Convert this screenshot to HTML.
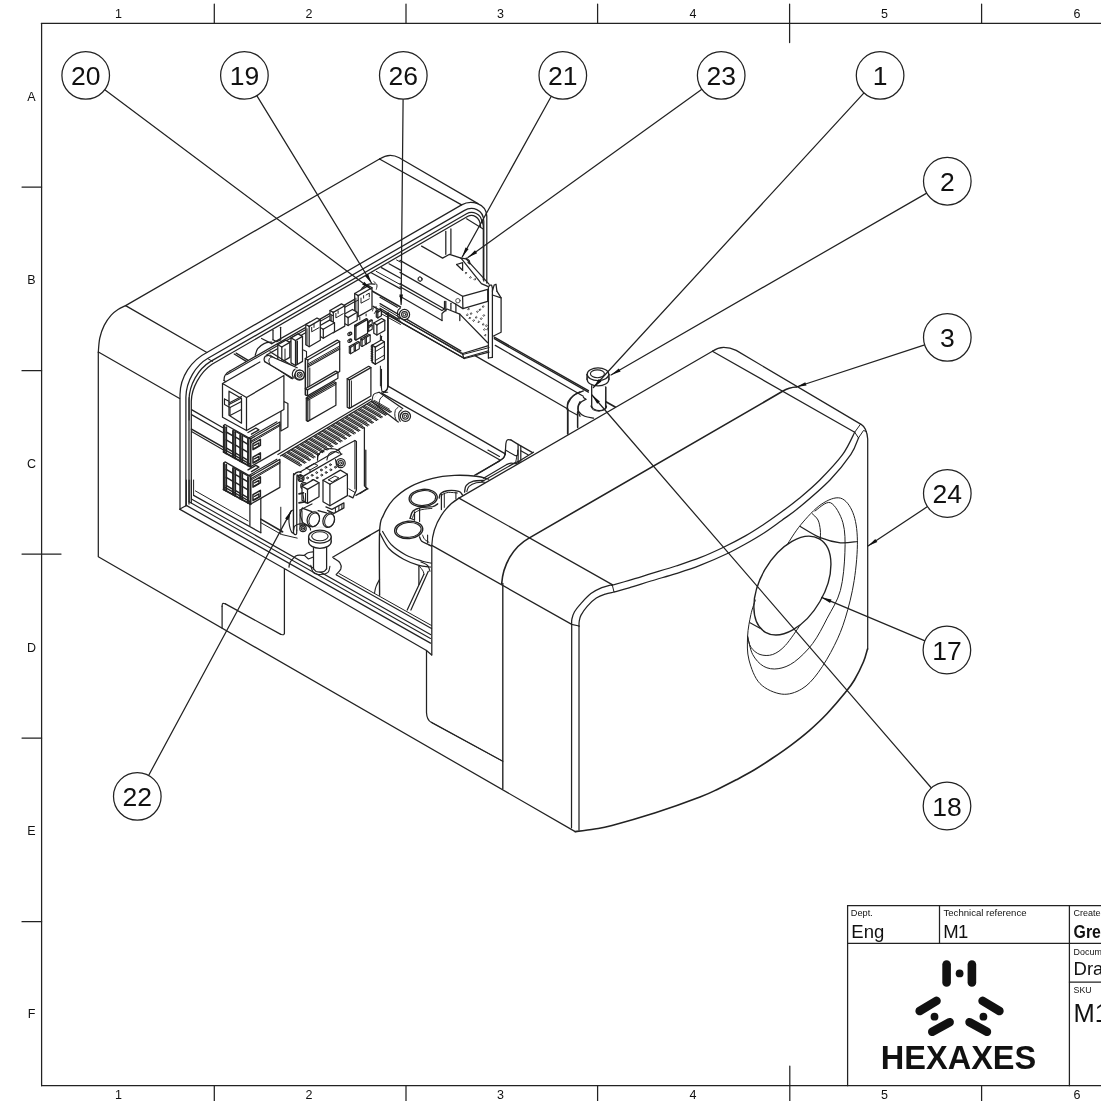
<!DOCTYPE html>
<html><head><meta charset="utf-8"><title>Drawing</title>
<style>
html,body{margin:0;padding:0;background:#fff;}
body{width:1101px;height:1101px;overflow:hidden;font-family:"Liberation Sans",sans-serif;}
svg{display:block;font-family:"Liberation Sans",sans-serif;}
svg{filter:grayscale(1);}
</style></head><body>
<svg width="1101" height="1101" viewBox="0 0 1101 1101" stroke-linecap="round" stroke-linejoin="round">
<rect x="0" y="0" width="1101" height="1101" fill="#fff"/>
<line x1="41.6" y1="23.3" x2="41.6" y2="1085.7" stroke="#222" stroke-width="1.25"/>
<line x1="41.6" y1="23.3" x2="1101.0" y2="23.3" stroke="#222" stroke-width="1.25"/>
<line x1="41.6" y1="1085.7" x2="1101.0" y2="1085.7" stroke="#222" stroke-width="1.25"/>
<line x1="214.3" y1="4.0" x2="214.3" y2="23.3" stroke="#222" stroke-width="1.25"/>
<line x1="214.3" y1="1085.7" x2="214.3" y2="1101.0" stroke="#222" stroke-width="1.25"/>
<line x1="406.0" y1="4.0" x2="406.0" y2="23.3" stroke="#222" stroke-width="1.25"/>
<line x1="406.0" y1="1085.7" x2="406.0" y2="1101.0" stroke="#222" stroke-width="1.25"/>
<line x1="597.6" y1="4.0" x2="597.6" y2="23.3" stroke="#222" stroke-width="1.25"/>
<line x1="597.6" y1="1085.7" x2="597.6" y2="1101.0" stroke="#222" stroke-width="1.25"/>
<line x1="981.6" y1="4.0" x2="981.6" y2="23.3" stroke="#222" stroke-width="1.25"/>
<line x1="981.6" y1="1085.7" x2="981.6" y2="1101.0" stroke="#222" stroke-width="1.25"/>
<line x1="789.6" y1="4.0" x2="789.6" y2="42.6" stroke="#222" stroke-width="1.25"/>
<line x1="789.8" y1="1066.0" x2="789.8" y2="1101.0" stroke="#222" stroke-width="1.25"/>
<line x1="22.0" y1="187.0" x2="41.6" y2="187.0" stroke="#222" stroke-width="1.25"/>
<line x1="22.0" y1="370.7" x2="41.6" y2="370.7" stroke="#222" stroke-width="1.25"/>
<line x1="22.0" y1="738.0" x2="41.6" y2="738.0" stroke="#222" stroke-width="1.25"/>
<line x1="22.0" y1="921.7" x2="41.6" y2="921.7" stroke="#222" stroke-width="1.25"/>
<line x1="22.0" y1="554.0" x2="61.0" y2="554.0" stroke="#222" stroke-width="1.25"/>
<text x="118.5" y="17.6" font-size="12.5" text-anchor="middle" font-weight="normal" fill="#111" >1</text>
<text x="118.5" y="1099.2" font-size="12.5" text-anchor="middle" font-weight="normal" fill="#111" >1</text>
<text x="309.0" y="17.6" font-size="12.5" text-anchor="middle" font-weight="normal" fill="#111" >2</text>
<text x="309.0" y="1099.2" font-size="12.5" text-anchor="middle" font-weight="normal" fill="#111" >2</text>
<text x="500.5" y="17.6" font-size="12.5" text-anchor="middle" font-weight="normal" fill="#111" >3</text>
<text x="500.5" y="1099.2" font-size="12.5" text-anchor="middle" font-weight="normal" fill="#111" >3</text>
<text x="693.0" y="17.6" font-size="12.5" text-anchor="middle" font-weight="normal" fill="#111" >4</text>
<text x="693.0" y="1099.2" font-size="12.5" text-anchor="middle" font-weight="normal" fill="#111" >4</text>
<text x="884.6" y="17.6" font-size="12.5" text-anchor="middle" font-weight="normal" fill="#111" >5</text>
<text x="884.6" y="1099.2" font-size="12.5" text-anchor="middle" font-weight="normal" fill="#111" >5</text>
<text x="1077.0" y="17.6" font-size="12.5" text-anchor="middle" font-weight="normal" fill="#111" >6</text>
<text x="1077.0" y="1099.2" font-size="12.5" text-anchor="middle" font-weight="normal" fill="#111" >6</text>
<text x="31.5" y="100.5" font-size="12.5" text-anchor="middle" font-weight="normal" fill="#111" >A</text>
<text x="31.5" y="284.0" font-size="12.5" text-anchor="middle" font-weight="normal" fill="#111" >B</text>
<text x="31.5" y="467.5" font-size="12.5" text-anchor="middle" font-weight="normal" fill="#111" >C</text>
<text x="31.5" y="651.5" font-size="12.5" text-anchor="middle" font-weight="normal" fill="#111" >D</text>
<text x="31.5" y="835.0" font-size="12.5" text-anchor="middle" font-weight="normal" fill="#111" >E</text>
<text x="31.5" y="1018.0" font-size="12.5" text-anchor="middle" font-weight="normal" fill="#111" >F</text>
<line x1="847.6" y1="905.7" x2="1101.0" y2="905.7" stroke="#222" stroke-width="1.25"/>
<line x1="847.6" y1="905.7" x2="847.6" y2="1085.7" stroke="#222" stroke-width="1.25"/>
<line x1="847.6" y1="943.3" x2="1101.0" y2="943.3" stroke="#222" stroke-width="1.25"/>
<line x1="939.5" y1="905.7" x2="939.5" y2="943.3" stroke="#222" stroke-width="1.25"/>
<line x1="1069.4" y1="905.7" x2="1069.4" y2="1085.7" stroke="#222" stroke-width="1.25"/>
<line x1="1069.4" y1="982.0" x2="1101.0" y2="982.0" stroke="#222" stroke-width="1.25"/>
<text x="850.8" y="915.7" font-size="9.5" text-anchor="start" font-weight="normal" fill="#111" textLength="22" lengthAdjust="spacingAndGlyphs">Dept.</text>
<text x="851.3" y="937.8" font-size="18.5" text-anchor="start" font-weight="normal" fill="#111" >Eng</text>
<text x="943.5" y="915.7" font-size="9.5" text-anchor="start" font-weight="normal" fill="#111" textLength="83" lengthAdjust="spacingAndGlyphs">Technical reference</text>
<text x="943.3" y="937.8" font-size="18.5" text-anchor="start" font-weight="normal" fill="#111" textLength="25" lengthAdjust="spacing">M1</text>
<text x="1073.6" y="915.7" font-size="9.5" text-anchor="start" font-weight="normal" fill="#111" textLength="44" lengthAdjust="spacingAndGlyphs">Created by</text>
<text x="1073.6" y="937.8" font-size="18.5" text-anchor="start" font-weight="bold" fill="#111" textLength="37" lengthAdjust="spacingAndGlyphs">Greg</text>
<text x="1073.6" y="954.8" font-size="9.5" text-anchor="start" font-weight="normal" fill="#111" textLength="60" lengthAdjust="spacingAndGlyphs">Document type</text>
<text x="1073.6" y="974.9" font-size="18.5" text-anchor="start" font-weight="normal" fill="#111" >Drawing</text>
<text x="1073.6" y="993.0" font-size="9.5" text-anchor="start" font-weight="normal" fill="#111" textLength="18" lengthAdjust="spacingAndGlyphs">SKU</text>
<text x="1073.6" y="1021.7" font-size="25.5" text-anchor="start" font-weight="normal" fill="#111" >M1</text>
<line x1="946.6" y1="964.6" x2="946.6" y2="982.4" stroke="#111" stroke-width="8.6" stroke-linecap="round"/>
<line x1="971.9" y1="964.6" x2="971.9" y2="982.4" stroke="#111" stroke-width="8.6" stroke-linecap="round"/>
<circle cx="959.6" cy="973.4" r="3.9" fill="#111"/>
<line x1="919.7" y1="1011.0" x2="936.5" y2="1000.9" stroke="#111" stroke-width="8.6" stroke-linecap="round"/>
<line x1="932.3" y1="1031.8" x2="949.6" y2="1022.2" stroke="#111" stroke-width="8.6" stroke-linecap="round"/>
<circle cx="934.5" cy="1016.7" r="3.9" fill="#111"/>
<line x1="982.6" y1="1000.9" x2="999.4" y2="1011.0" stroke="#111" stroke-width="8.6" stroke-linecap="round"/>
<line x1="969.6" y1="1022.2" x2="986.9" y2="1031.8" stroke="#111" stroke-width="8.6" stroke-linecap="round"/>
<circle cx="983.4" cy="1016.7" r="3.9" fill="#111"/>
<text x="958.5" y="1069.3" font-size="34" text-anchor="middle" font-weight="bold" fill="#111" textLength="155.5" lengthAdjust="spacingAndGlyphs">HEXAXES</text>
<path d="M379.5,159 L125.6,305.6" stroke="#222" stroke-width="1.25" fill="none" />
<path d="M125.6,305.6 C124.3,306.3 120.4,308.0 118.0,309.6 C115.6,311.2 113.5,312.6 111.2,315.2 C108.9,317.8 106.1,321.6 104.2,325.4 C102.3,329.2 100.8,333.5 99.8,338.0 C98.8,342.5 98.5,349.9 98.3,352.3" stroke="#222" stroke-width="1.25" fill="none" />
<path d="M98.3,352.3 L98.3,556.8 L575.2,831.6" stroke="#222" stroke-width="1.25" fill="none" />
<path d="M379.5,159 Q385,155.3 390.3,155.3 Q395,155.3 399.2,157.8 L478,203.6" stroke="#222" stroke-width="1.25" fill="none" />
<path d="M379.5,159 L461.6,204.9" stroke="#222" stroke-width="1.25" fill="none" />
<path d="M125.6,305.6 L206.9,352.5" stroke="#222" stroke-width="1.25" fill="none" />
<path d="M98.4,352 L179.6,398.5" stroke="#222" stroke-width="1.25" fill="none" />
<path d="M180,509.4 L180,394.4 C180.3,377 191,360.5 206.9,352.5 L461.6,204.9 C471,199.5 486.4,203 486.8,216.3 L486.8,283" stroke="#222" stroke-width="1.25" fill="none" />
<path d="M185.9,506 L185.9,397 C186.2,381 196,365 208,358.2 L464.1,210.6 C472,206 483.6,209 483.8,221.4 L483.8,281" stroke="#222" stroke-width="1.25" fill="none" />
<path d="M189,504 L189,399.5 C189.3,385 198,369 210.7,361.4 L466.6,213.8 C472,210.8 481.6,213 481.9,222.7" stroke="#222" stroke-width="1.25" fill="none" />
<path d="M191.3,503 L191.3,401 C191.6,388 200,372.5 212,364.3 L467.9,216.3 C472,214 480,216 480.6,226.5" stroke="#222" stroke-width="1.25" fill="none" />
<path d="M466.6,218.8 L483.2,229" stroke="#222" stroke-width="1.12" fill="none" />
<path d="M712.4,351.2 Q718,347.4 723.7,347.4 Q730,347.4 736.2,350.4 L861.5,424.6 Q866.8,427.8 867.7,439 L867.7,649" stroke="#222" stroke-width="1.25" fill="none" />
<path d="M712.4,351.2 L854.7,432.2" stroke="#222" stroke-width="1.25" fill="none" />
<path d="M854.7,432.2 L858.5,437.9" stroke="#222" stroke-width="1.00" fill="none" />
<path d="M854.7,432.2 L860.5,424.2" stroke="#222" stroke-width="1.00" fill="none" />
<path d="M858.5,437.9 L863.5,430.5 L866.5,431.5" stroke="#222" stroke-width="1.00" fill="none" />
<path d="M712.4,351.2 L459,498.1" stroke="#222" stroke-width="1.25" fill="none" />
<path d="M459,498.1 C447,505 432.5,522 431.8,545.4 L431.8,654.8" stroke="#222" stroke-width="1.25" fill="none" />
<path d="M459,498.1 L612.2,584.6" stroke="#222" stroke-width="1.25" fill="none" />
<path d="M431.8,545.4 L571.7,624.4 L579,626" stroke="#222" stroke-width="1.25" fill="none" />
<path d="M501.7,583.5 C503,565 513,547 529,538.1 L782.6,391.3 Q789,387.3 796.4,387" stroke="#222" stroke-width="1.62" fill="none" />
<path d="M502.8,583.5 L502.8,788.8" stroke="#222" stroke-width="1.38" fill="none" />
<path d="M571.7,624.4 L571.5,827.8" stroke="#222" stroke-width="1.25" fill="none" />
<path d="M579,626 L579,830" stroke="#222" stroke-width="1.25" fill="none" />
<path d="M571.7,624.4 C571.7,623.5 571.4,621.1 571.9,619.0 C572.4,616.9 573.0,614.4 574.5,611.8 C576.0,609.2 578.2,606.6 580.9,603.6 C583.6,600.6 587.4,596.2 590.9,593.6 C594.4,591.0 598.2,589.2 601.8,587.7 C605.3,586.2 610.5,585.1 612.2,584.6" stroke="#222" stroke-width="1.25" fill="none" />
<path d="M579.0,626.0 C579.0,625.2 578.9,623.3 579.2,621.5 C579.5,619.7 579.6,617.9 580.9,615.4 C582.2,612.9 584.6,609.2 587.2,606.3 C589.8,603.4 593.3,600.1 596.3,598.1 C599.3,596.1 602.4,595.1 605.4,594.1 C608.4,593.1 612.6,592.4 614.0,592.0" stroke="#222" stroke-width="1.25" fill="none" />
<path d="M612.2,584.6 L614,592" stroke="#222" stroke-width="1.00" fill="none" />
<path d="M611.6,585.4 C614.5,584.6 622.6,582.3 629.1,580.4 C635.6,578.5 643.1,576.1 650.9,573.7 C658.7,571.3 667.8,568.7 676.0,566.0 C684.2,563.3 692.1,560.8 700.0,557.7 C707.9,554.6 716.0,550.8 723.6,547.2 C731.2,543.6 738.7,539.7 745.4,535.9 C752.1,532.1 757.5,528.5 763.6,524.5 C769.7,520.5 775.8,516.1 781.7,511.8 C787.6,507.5 792.6,503.8 799.0,498.5 C805.4,493.2 812.5,487.4 819.8,480.0 C827.1,472.6 836.9,462.4 842.7,454.4 C848.5,446.4 852.7,435.9 854.7,432.2" stroke="#222" stroke-width="1.25" fill="none" />
<path d="M614.5,591.9 C616.9,591.2 623.0,589.6 629.1,587.8 C635.2,586.0 643.1,583.4 650.9,581.0 C658.7,578.6 667.8,576.2 676.0,573.6 C684.2,571.0 691.1,568.9 700.0,565.4 C708.9,561.9 721.5,556.3 729.1,552.7 C736.7,549.1 739.6,547.2 745.4,544.0 C751.1,540.8 757.5,537.1 763.6,533.2 C769.7,529.3 775.6,524.8 781.7,520.4 C787.8,516.0 792.0,513.5 800.0,506.8 C808.0,500.1 821.5,488.7 830.0,480.0 C838.5,471.3 846.1,461.4 850.9,454.4 C855.6,447.4 857.2,440.6 858.5,437.9" stroke="#222" stroke-width="1.25" fill="none" />
<path d="M867.5,649.0 C866.8,651.1 865.7,656.6 863.5,661.8 C861.3,667.0 857.4,674.9 854.4,680.0 C851.4,685.1 849.8,687.0 845.3,692.6 C840.8,698.2 833.2,707.1 827.2,713.5 C821.2,719.9 815.1,725.5 809.0,730.8 C802.9,736.1 796.8,740.8 790.8,745.3 C784.8,749.8 778.8,753.9 772.7,758.0 C766.7,762.1 760.6,766.2 754.5,769.8 C748.4,773.4 742.3,776.6 736.3,779.8 C730.2,783.0 724.2,786.0 718.2,788.9 C712.2,791.8 710.5,793.0 700.0,797.0 C689.5,801.0 670.1,808.0 655.4,812.8 C640.7,817.5 622.1,822.8 612.0,825.5 C601.9,828.2 600.7,828.0 594.6,829.0 C588.5,830.0 578.4,831.2 575.2,831.6" stroke="#222" stroke-width="1.62" fill="none" />
<ellipse cx="792.4" cy="585.6" rx="53.9" ry="31.8" transform="rotate(-60 792.4 585.6)" stroke="#222" stroke-width="1.38" fill="none"/>
<path d="M786.9,545.0 C789.2,541.6 795.2,531.4 800.9,524.6 C806.6,517.8 814.7,508.7 821.3,504.3 C827.9,499.9 835.1,496.7 840.4,498.1 C845.7,499.5 850.1,505.7 852.9,512.7 C855.7,519.7 857.2,529.0 857.4,540.3 C857.6,551.6 856.2,567.4 854.2,580.4 C852.2,593.4 848.6,607.4 845.3,618.2 C842.0,629.0 838.9,636.3 834.4,645.4 C829.9,654.5 823.5,665.4 818.1,672.7 C812.7,680.0 807.8,685.4 801.7,689.0 C795.6,692.6 788.7,695.0 781.7,694.1 C774.8,693.2 765.5,689.3 760.0,683.6 C754.5,677.9 751.1,667.9 749.0,660.0 C746.9,652.1 747.3,643.9 747.6,636.3 C747.9,628.7 749.6,620.5 750.9,614.5 C752.2,608.5 754.6,602.4 755.4,600.0" stroke="#222" stroke-width="1.00" fill="none" />
<path d="M815.0,511.0 C817.6,509.6 825.8,500.8 830.4,502.7 C835.0,504.6 840.5,514.4 842.9,522.7 C845.3,531.1 845.3,541.5 844.9,552.8 C844.5,564.1 843.3,579.5 840.4,590.4 C837.5,601.3 831.8,609.3 827.2,618.2 C822.6,627.1 818.1,636.3 812.6,643.6 C807.1,650.9 800.2,657.6 794.5,661.8 C788.8,666.0 783.2,668.0 778.1,668.7 C773.0,669.5 767.8,668.7 763.6,666.3 C759.4,663.9 755.4,659.5 752.7,654.5 C750.0,649.5 748.5,639.3 747.6,636.3" stroke="#222" stroke-width="1.00" fill="none" />
<path d="M812.0,513.5 C813.0,514.6 816.6,517.2 818.0,520.0 C819.4,522.8 819.9,526.8 820.3,530.0 C820.7,533.2 820.3,537.5 820.3,539.0" stroke="#222" stroke-width="1.00" fill="none" />
<path d="M747.6,636.3 C748.1,638.1 748.8,644.2 750.9,647.2 C753.0,650.2 756.4,653.3 760.0,654.5 C763.6,655.7 768.5,656.0 772.7,654.5 C776.9,653.0 780.9,650.2 785.4,645.4 C789.9,640.5 797.6,628.7 800.0,625.4" stroke="#222" stroke-width="1.00" fill="none" />
<path d="M800.3,526.5 C803.6,528.4 813.6,535.0 820.3,537.7 C827.0,540.4 834.2,542.2 840.4,542.8 C846.6,543.4 854.6,541.7 857.4,541.5" stroke="#222" stroke-width="1.25" fill="none" />
<line x1="750.0" y1="622.7" x2="760.0" y2="628.2" stroke="#222" stroke-width="1.12"/>
<path d="M380.0,303.6 L460.8,350.9" stroke="#222" stroke-width="1.25" fill="none" />
<path d="M380.0,305.8 L462.7,354.5" stroke="#222" stroke-width="1.00" fill="none" />
<path d="M385.4,313.6 L464.5,358.5" stroke="#222" stroke-width="1.25" fill="none" />
<path d="M464.5,358.5 L489.0,352.1" stroke="#222" stroke-width="1.25" fill="none" />
<path d="M462.7,354.5 L489.0,347.6" stroke="#222" stroke-width="1.00" fill="none" />
<path d="M494.3,337.2 L588.4,390.6" stroke="#222" stroke-width="1.38" fill="none" />
<path d="M494.3,338.7 L588.4,392.1" stroke="#222" stroke-width="1.38" fill="none" />
<path d="M495.3,345.4 L583.3,396.3" stroke="#222" stroke-width="1.25" fill="none" />
<path d="M475.0,355.6 L567.8,409.0" stroke="#222" stroke-width="1.25" fill="none" />
<path d="M567.1,409.4 C567.3,408.1 567.0,404.1 568.0,401.7 C569.1,399.4 571.5,397.0 573.5,395.4 C575.5,393.7 578.9,392.3 580.0,391.7" stroke="#222" stroke-width="1.25" fill="none" />
<path d="M568.0,409.0 L568.0,433.5" stroke="#222" stroke-width="1.25" fill="none" />
<path d="M577.5,412.6 L577.5,427.2" stroke="#222" stroke-width="1.25" fill="none" />
<path d="M580.0,401.7 C579.7,402.5 578.3,404.6 578.0,406.3 C577.7,407.9 578.0,410.1 578.4,411.7 C578.7,413.4 579.7,415.5 580.0,416.3" stroke="#222" stroke-width="1.25" fill="none" />
<path d="M382.5,393.6 L499.5,459.7" stroke="#222" stroke-width="1.25" fill="none" />
<path d="M387.6,385.9 L505.3,453.9" stroke="#222" stroke-width="1.25" fill="none" />
<path d="M380.0,394.5 C380.6,394.2 382.5,393.4 383.6,392.6 C384.8,391.9 386.2,391.0 386.9,389.9 C387.6,388.8 387.5,386.6 387.6,385.9" stroke="#222" stroke-width="1.12" fill="none" />
<path d="M388.2,312.7 L388.2,386.8" stroke="#222" stroke-width="1.25" fill="none" />
<path d="M505.3,454.4 C505.4,452.6 505.6,445.9 505.9,443.5 C506.2,441.1 506.3,440.5 507.2,439.9 C508.0,439.3 510.2,439.9 510.8,439.9" stroke="#222" stroke-width="1.25" fill="none" />
<path d="M510.8,439.9 L518.1,444.4 L518.1,461.7" stroke="#222" stroke-width="1.25" fill="none" />
<path d="M520.8,446.2 L520.8,460.8" stroke="#222" stroke-width="1.25" fill="none" />
<path d="M518.1,444.4 L532.6,452.6" stroke="#222" stroke-width="1.25" fill="none" />
<path d="M520.8,450.8 L528.0,454.8" stroke="#222" stroke-width="1.25" fill="none" />
<path d="M505.3,454.4 C505.0,455.0 504.7,456.8 503.5,458.0 C502.3,459.2 499.0,461.1 498.1,461.7" stroke="#222" stroke-width="1.25" fill="none" />
<path d="M498.1,461.7 L474.5,475.3" stroke="#222" stroke-width="1.25" fill="none" />
<path d="M481.7,481.7 L515.3,462.6 L518.1,461.7" stroke="#222" stroke-width="1.25" fill="none" />
<path d="M515.3,462.6 C515.5,462.1 516.0,460.9 516.2,459.9 C516.5,458.8 516.5,456.8 516.6,456.2" stroke="#222" stroke-width="1.00" fill="none" />
<path d="M518.1,461.7 L533.5,452.2" stroke="#222" stroke-width="1.25" fill="none" />
<path d="M380.0,297.3 L397.3,307.3" stroke="#222" stroke-width="1.25" fill="none" />
<path d="M380.0,308.2 L398.2,319.1" stroke="#222" stroke-width="1.25" fill="none" />
<path d="M400.3,308.2 C399.9,308.6 398.2,309.5 397.8,310.9 C397.4,312.3 397.5,315.0 397.8,316.3 C398.1,317.7 399.3,318.6 399.6,319.1" stroke="#222" stroke-width="1.12" fill="none" />
<circle cx="404.5" cy="314.5" r="5.1" stroke="#222" stroke-width="1.25" fill="#fff"/>
<circle cx="404.5" cy="314.5" r="2.9" stroke="#222" stroke-width="1.12" fill="none"/>
<circle cx="404.5" cy="314.5" r="1.3" stroke="#222" stroke-width="1.00" fill="none"/>
<path d="M379.1,392.3 L402.7,408.6 L398.2,422.1 L371.8,401.7 Z" stroke="#222" stroke-width="0.12" fill="#fff" />
<path d="M379.1,392.3 L402.7,408.6" stroke="#222" stroke-width="1.25" fill="none" />
<path d="M371.8,401.7 L398.2,422.1" stroke="#222" stroke-width="1.25" fill="none" />
<path d="M379.1,392.3 C378.2,392.6 374.9,392.9 373.6,394.5 C372.4,396.0 372.1,400.5 371.8,401.7" stroke="#222" stroke-width="1.12" fill="none" />
<path d="M383.6,395.4 C383.0,396.0 380.8,397.3 380.0,399.0 C379.2,400.7 379.2,404.3 379.1,405.4" stroke="#222" stroke-width="1.00" fill="none" />
<path d="M401.4,409.9 C401.0,410.4 399.3,411.6 398.9,413.0 C398.5,414.4 398.6,416.7 398.9,418.1 C399.1,419.5 400.1,420.8 400.3,421.3" stroke="#222" stroke-width="1.12" fill="none" />
<path d="M398.2,407.2 C397.7,407.7 395.8,408.9 395.3,410.4 C394.7,412.0 394.7,414.6 394.9,416.3 C395.1,417.9 396.1,419.6 396.3,420.3" stroke="#222" stroke-width="1.00" fill="none" />
<circle cx="405.4" cy="416.3" r="5.1" stroke="#222" stroke-width="1.25" fill="#fff"/>
<circle cx="405.4" cy="416.3" r="2.9" stroke="#222" stroke-width="1.12" fill="none"/>
<circle cx="405.4" cy="416.3" r="1.3" stroke="#222" stroke-width="1.00" fill="none"/>
<path d="M273.0,330.2 L273.0,339.8" stroke="#222" stroke-width="1.25" fill="none" />
<path d="M280.6,327.3 L280.6,339.8" stroke="#222" stroke-width="1.25" fill="none" />
<path d="M273.0,339.8 L276.8,341.7 L280.6,339.8" stroke="#222" stroke-width="1.25" fill="none" />
<path d="M255.2,355.3 C255.6,354.2 256.3,350.6 257.7,348.7 C259.2,346.7 261.8,344.7 264.1,343.6 C266.4,342.5 270.5,342.3 271.7,342.1" stroke="#222" stroke-width="1.25" fill="none" />
<path d="M261.6,338.5 L271.7,343.6" stroke="#222" stroke-width="1.25" fill="none" />
<path d="M234.2,354.0 L246.3,361.4" stroke="#222" stroke-width="1.25" fill="none" />
<path d="M236.1,353.1 L247.8,360.1" stroke="#222" stroke-width="1.25" fill="none" />
<path d="M271.7,343.6 L310.0,322.0" stroke="#222" stroke-width="1.25" fill="none" />
<path d="M266.6,355.0 L310.0,330.2" stroke="#222" stroke-width="1.25" fill="none" />
<path d="M224.0,380.5 C224.1,379.7 224.1,377.3 224.7,376.0 C225.2,374.7 226.3,373.7 227.2,372.8 C228.1,372.0 229.6,371.3 230.0,371.0" stroke="#222" stroke-width="1.25" fill="none" />
<path d="M230.0,371.0 L370.9,289.9" stroke="#222" stroke-width="1.25" fill="none" />
<path d="M226.6,374.7 L369.0,293.4" stroke="#222" stroke-width="1.12" fill="none" />
<path d="M224.0,380.5 L225.9,381.7" stroke="#222" stroke-width="1.25" fill="none" />
<path d="M208.1,358.8 L212.6,361.4" stroke="#222" stroke-width="1.00" fill="none" />
<path d="M189.1,397.6 L189.1,420.0" stroke="#222" stroke-width="1.00" fill="none" />
<path d="M387.7,313.4 L387.7,385.2" stroke="#222" stroke-width="1.25" fill="none" />
<path d="M381.4,336.3 L381.4,342.7" stroke="#222" stroke-width="1.25" fill="none" />
<path d="M381.4,369.4 L381.4,387.2" stroke="#222" stroke-width="1.25" fill="none" />
<path d="M381.4,387.2 C381.5,387.8 381.5,390.1 382.0,391.0 C382.5,391.8 383.6,392.0 384.6,392.2 C385.5,392.5 387.2,392.2 387.7,392.2" stroke="#222" stroke-width="1.12" fill="none" />
<path d="M387.7,385.2 C387.7,385.8 387.9,387.5 387.5,388.4 C387.1,389.4 386.2,390.3 385.2,391.0 C384.2,391.6 382.0,392.0 381.4,392.2" stroke="#222" stroke-width="1.12" fill="none" />
<path d="M371.2,272.7 L400.5,288.9" stroke="#222" stroke-width="1.25" fill="none" />
<path d="M376.3,271.4 L400.5,284.7" stroke="#222" stroke-width="1.00" fill="none" />
<path d="M381.4,267.6 L400.5,278.2" stroke="#222" stroke-width="1.25" fill="none" />
<path d="M389.0,263.8 L400.5,270.1" stroke="#222" stroke-width="1.25" fill="none" />
<path d="M396.6,260.0 L400.5,262.1" stroke="#222" stroke-width="1.00" fill="none" />
<path d="M371.2,290.5 L400.5,307.0" stroke="#222" stroke-width="1.50" fill="none" />
<path d="M373.1,306.4 L400.5,321.7" stroke="#222" stroke-width="1.50" fill="none" />
<path d="M376.3,310.9 L400.5,324.4" stroke="#222" stroke-width="1.00" fill="none" />
<ellipse cx="420.2" cy="279.1" rx="1.7" ry="2.3" transform="rotate(-20 420.2 279.1)" stroke="#222" stroke-width="0.75" fill="none"/>
<path d="M359.8,294.3 C360.2,293.3 360.8,289.7 362.3,288.0 C363.8,286.3 366.5,284.8 368.7,284.2 C370.8,283.5 374.0,284.2 375.0,284.2" stroke="#222" stroke-width="1.25" fill="none" />
<path d="M373.8,281.6 C374.3,282.1 376.5,283.5 376.9,284.8 C377.4,286.1 376.4,288.5 376.3,289.2" stroke="#222" stroke-width="1.00" fill="none" />
<path d="M372.5,310.9 C372.7,310.3 373.1,308.3 373.8,307.7 C374.4,307.0 375.9,307.2 376.3,307.0" stroke="#222" stroke-width="1.00" fill="none" />
<path d="M374.4,313.4 C374.7,312.9 376.0,311.2 376.3,310.2 C376.6,309.3 376.1,308.1 376.0,307.7" stroke="#222" stroke-width="1.00" fill="none" />
<path d="M377.8,317.9 L381.4,315.8 L381.4,310.1 L379.9,309.2 L376.3,311.3 L376.3,317.0 Z" stroke="#222" stroke-width="1.25" fill="#fff" />
<path d="M377.8,312.1 L381.4,310.1" stroke="#222" stroke-width="1.25" fill="none" />
<path d="M377.8,312.1 L377.8,317.9" stroke="#222" stroke-width="1.25" fill="none" />
<path d="M377.8,312.1 L376.3,311.3" stroke="#222" stroke-width="1.25" fill="none" />
<path d="M376.9,335.0 L384.8,330.5 L384.8,320.3 L381.6,318.5 L373.8,323.0 L373.8,333.2 Z" stroke="#222" stroke-width="1.25" fill="#fff" />
<path d="M376.9,324.9 L384.8,320.3" stroke="#222" stroke-width="1.25" fill="none" />
<path d="M376.9,324.9 L376.9,335.0" stroke="#222" stroke-width="1.25" fill="none" />
<path d="M376.9,324.9 L373.8,323.0" stroke="#222" stroke-width="1.25" fill="none" />
<path d="M380.4,335.0 L380.4,342.7" stroke="#222" stroke-width="1.00" fill="none" />
<path d="M375.3,364.3 L384.4,359.0 L384.4,341.8 L381.3,340.0 L372.1,345.3 L372.1,362.4 Z" stroke="#222" stroke-width="1.25" fill="#fff" />
<path d="M375.3,347.1 L384.4,341.8" stroke="#222" stroke-width="1.25" fill="none" />
<path d="M375.3,347.1 L375.3,364.3" stroke="#222" stroke-width="1.25" fill="none" />
<path d="M375.3,347.1 L372.1,345.3" stroke="#222" stroke-width="1.25" fill="none" />
<path d="M375.3,351.6 L384.4,346.2" stroke="#222" stroke-width="1.00" fill="none" />
<path d="M375.3,360.5 L384.4,355.1" stroke="#222" stroke-width="1.00" fill="none" />
<path d="M372.7,345.4 L371.2,346.2" stroke="#222" stroke-width="1.38" fill="none" />
<path d="M372.7,347.2 L371.2,348.0" stroke="#222" stroke-width="1.38" fill="none" />
<path d="M372.7,349.0 L371.2,349.8" stroke="#222" stroke-width="1.38" fill="none" />
<path d="M372.7,350.8 L371.2,351.6" stroke="#222" stroke-width="1.38" fill="none" />
<path d="M372.7,352.6 L371.2,353.3" stroke="#222" stroke-width="1.38" fill="none" />
<path d="M372.7,354.4 L371.2,355.1" stroke="#222" stroke-width="1.38" fill="none" />
<path d="M372.7,356.1 L371.2,356.9" stroke="#222" stroke-width="1.38" fill="none" />
<path d="M372.7,357.9 L371.2,358.7" stroke="#222" stroke-width="1.38" fill="none" />
<path d="M372.7,359.7 L371.2,360.5" stroke="#222" stroke-width="1.38" fill="none" />
<path d="M372.2,344.6 L372.2,361.7 L375.3,364.3" stroke="#222" stroke-width="1.00" fill="none" />
<path d="M380.4,366.2 L380.4,385.9" stroke="#222" stroke-width="1.00" fill="none" />
<path d="M358.2,316.6 L372.0,308.7 L372.0,287.7 L368.4,285.6 L354.7,293.5 L354.7,314.5 Z" stroke="#222" stroke-width="1.25" fill="#fff" />
<path d="M358.2,295.6 L372.0,287.7" stroke="#222" stroke-width="1.25" fill="none" />
<path d="M358.2,295.6 L358.2,316.6" stroke="#222" stroke-width="1.25" fill="none" />
<path d="M358.2,295.6 L354.7,293.5" stroke="#222" stroke-width="1.25" fill="none" />
<path d="M361.0,298.1 L361.0,303.2 L369.3,298.8" stroke="#222" stroke-width="1.00" fill="none" />
<path d="M363.6,295.6 L363.6,298.1" stroke="#222" stroke-width="1.00" fill="none" />
<path d="M366.1,295.0 L369.3,293.1 L369.3,296.9" stroke="#222" stroke-width="1.00" fill="none" />
<path d="M354.7,302.0 L358.2,300.1" stroke="#222" stroke-width="1.00" fill="none" />
<path d="M355.9,298.1 L355.9,315.9" stroke="#222" stroke-width="1.00" fill="none" />
<path d="M368.7,326.1 L372.2,324.1 L372.2,320.3 L371.2,319.7 L367.6,321.7 L367.6,325.5 Z" stroke="#222" stroke-width="1.12" fill="#fff" />
<path d="M368.7,322.3 L372.2,320.3" stroke="#222" stroke-width="1.12" fill="none" />
<path d="M368.7,322.3 L368.7,326.1" stroke="#222" stroke-width="1.12" fill="none" />
<path d="M368.7,322.3 L367.6,321.7" stroke="#222" stroke-width="1.12" fill="none" />
<path d="M368.7,331.2 L372.2,329.2 L372.2,325.3 L371.2,324.8 L367.6,326.8 L367.6,330.6 Z" stroke="#222" stroke-width="1.12" fill="#fff" />
<path d="M368.7,327.4 L372.2,325.3" stroke="#222" stroke-width="1.12" fill="none" />
<path d="M368.7,327.4 L368.7,331.2" stroke="#222" stroke-width="1.12" fill="none" />
<path d="M368.7,327.4 L367.6,326.8" stroke="#222" stroke-width="1.12" fill="none" />
<path d="M359.8,319.8 L359.8,317.2" stroke="#222" stroke-width="1.00" fill="none" />
<path d="M366.1,315.9 L366.1,314.0" stroke="#222" stroke-width="1.00" fill="none" />
<path d="M355.9,340.1 L367.6,333.4 L367.6,319.4 L366.4,318.6 L354.7,325.4 L354.7,339.4 Z" stroke="#222" stroke-width="1.25" fill="#fff" />
<path d="M355.9,326.1 L367.6,319.4" stroke="#222" stroke-width="1.25" fill="none" />
<path d="M355.9,326.1 L355.9,340.1" stroke="#222" stroke-width="1.25" fill="none" />
<path d="M355.9,326.1 L354.7,325.4" stroke="#222" stroke-width="1.25" fill="none" />
<path d="M362.1,346.5 L365.9,344.3 L365.9,337.7 L364.6,336.9 L360.8,339.1 L360.8,345.7 Z" stroke="#222" stroke-width="1.12" fill="#fff" />
<path d="M362.1,339.9 L365.9,337.7" stroke="#222" stroke-width="1.12" fill="none" />
<path d="M362.1,339.9 L362.1,346.5" stroke="#222" stroke-width="1.12" fill="none" />
<path d="M362.1,339.9 L360.8,339.1" stroke="#222" stroke-width="1.12" fill="none" />
<path d="M366.4,343.9 L370.2,341.7 L370.2,335.1 L368.9,334.4 L365.1,336.6 L365.1,343.2 Z" stroke="#222" stroke-width="1.12" fill="#fff" />
<path d="M366.4,337.3 L370.2,335.1" stroke="#222" stroke-width="1.12" fill="none" />
<path d="M366.4,337.3 L366.4,343.9" stroke="#222" stroke-width="1.12" fill="none" />
<path d="M366.4,337.3 L365.1,336.6" stroke="#222" stroke-width="1.12" fill="none" />
<path d="M350.6,353.8 L354.4,351.6 L354.4,345.0 L353.2,344.3 L349.3,346.5 L349.3,353.1 Z" stroke="#222" stroke-width="1.12" fill="#fff" />
<path d="M350.6,347.2 L354.4,345.0" stroke="#222" stroke-width="1.12" fill="none" />
<path d="M350.6,347.2 L350.6,353.8" stroke="#222" stroke-width="1.12" fill="none" />
<path d="M350.6,347.2 L349.3,346.5" stroke="#222" stroke-width="1.12" fill="none" />
<path d="M355.4,351.0 L359.3,348.8 L359.3,342.2 L358.0,341.5 L354.2,343.7 L354.2,350.3 Z" stroke="#222" stroke-width="1.12" fill="#fff" />
<path d="M355.4,344.4 L359.3,342.2" stroke="#222" stroke-width="1.12" fill="none" />
<path d="M355.4,344.4 L355.4,351.0" stroke="#222" stroke-width="1.12" fill="none" />
<path d="M355.4,344.4 L354.2,343.7" stroke="#222" stroke-width="1.12" fill="none" />
<ellipse cx="349.8" cy="333.8" rx="2.2" ry="1.5" transform="rotate(-30 349.8 333.8)" stroke="#222" stroke-width="1.12" fill="none"/>
<ellipse cx="350.4" cy="333.5" rx="1.1" ry="0.8" transform="rotate(-30 350.4 333.5)" stroke="#222" stroke-width="1.00" fill="none"/>
<ellipse cx="349.8" cy="340.7" rx="2.2" ry="1.5" transform="rotate(-30 349.8 340.7)" stroke="#222" stroke-width="1.12" fill="none"/>
<ellipse cx="350.4" cy="340.5" rx="1.1" ry="0.8" transform="rotate(-30 350.4 340.5)" stroke="#222" stroke-width="1.00" fill="none"/>
<path d="M348.1,325.5 L357.2,320.2 L357.2,312.3 L352.4,309.5 L343.2,314.8 L343.2,322.7 Z" stroke="#222" stroke-width="1.25" fill="#fff" />
<path d="M348.1,317.6 L357.2,312.3" stroke="#222" stroke-width="1.25" fill="none" />
<path d="M348.1,317.6 L348.1,325.5" stroke="#222" stroke-width="1.25" fill="none" />
<path d="M348.1,317.6 L343.2,314.8" stroke="#222" stroke-width="1.25" fill="none" />
<path d="M333.3,332.7 L344.8,326.1 L344.8,305.8 L341.5,303.9 L330.0,310.5 L330.0,330.8 Z" stroke="#222" stroke-width="1.25" fill="#fff" />
<path d="M333.3,312.4 L344.8,305.8" stroke="#222" stroke-width="1.25" fill="none" />
<path d="M333.3,312.4 L333.3,332.7" stroke="#222" stroke-width="1.25" fill="none" />
<path d="M333.3,312.4 L330.0,310.5" stroke="#222" stroke-width="1.25" fill="none" />
<path d="M335.9,313.4 L335.9,317.9 L343.2,313.7" stroke="#222" stroke-width="1.00" fill="none" />
<path d="M333.3,315.9 L330.5,314.4" stroke="#222" stroke-width="1.00" fill="none" />
<path d="M338.1,310.9 L338.1,313.4" stroke="#222" stroke-width="1.00" fill="none" />
<path d="M331.2,314.7 L331.2,331.2" stroke="#222" stroke-width="1.00" fill="none" />
<path d="M323.3,338.2 L334.5,331.7 L334.5,322.8 L329.6,320.1 L318.4,326.5 L318.4,335.4 Z" stroke="#222" stroke-width="1.25" fill="#fff" />
<path d="M323.3,329.3 L334.5,322.8" stroke="#222" stroke-width="1.25" fill="none" />
<path d="M323.3,329.3 L323.3,338.2" stroke="#222" stroke-width="1.25" fill="none" />
<path d="M323.3,329.3 L318.4,326.5" stroke="#222" stroke-width="1.25" fill="none" />
<path d="M309.2,346.7 L320.3,340.3 L320.3,319.9 L317.0,318.0 L305.8,324.5 L305.8,344.8 Z" stroke="#222" stroke-width="1.25" fill="#fff" />
<path d="M309.2,326.4 L320.3,319.9" stroke="#222" stroke-width="1.25" fill="none" />
<path d="M309.2,326.4 L309.2,346.7" stroke="#222" stroke-width="1.25" fill="none" />
<path d="M309.2,326.4 L305.8,324.5" stroke="#222" stroke-width="1.25" fill="none" />
<path d="M311.7,327.4 L311.7,331.8 L319.1,327.6" stroke="#222" stroke-width="1.00" fill="none" />
<path d="M314.0,324.2 L314.0,327.4" stroke="#222" stroke-width="1.00" fill="none" />
<path d="M307.0,328.7 L307.0,345.2" stroke="#222" stroke-width="1.00" fill="none" />
<path d="M349.4,408.4 L370.9,396.0 L370.9,367.6 L368.7,366.3 L347.2,378.7 L347.2,407.2 Z" stroke="#222" stroke-width="1.25" fill="#fff" />
<path d="M349.4,379.9 L370.9,367.6" stroke="#222" stroke-width="1.25" fill="none" />
<path d="M349.4,379.9 L349.4,408.4" stroke="#222" stroke-width="1.25" fill="none" />
<path d="M349.4,379.9 L347.2,378.7" stroke="#222" stroke-width="1.25" fill="none" />
<path d="M351.4,406.9 L351.4,380.9" stroke="#222" stroke-width="1.00" fill="none" />
<path d="M307.8,389.9 L339.7,371.5 L339.7,341.5 L337.2,340.1 L305.3,358.5 L305.3,388.5 Z" stroke="#222" stroke-width="1.25" fill="#fff" />
<path d="M307.8,360.0 L339.7,341.5" stroke="#222" stroke-width="1.25" fill="none" />
<path d="M307.8,360.0 L307.8,389.9" stroke="#222" stroke-width="1.25" fill="none" />
<path d="M307.8,360.0 L305.3,358.5" stroke="#222" stroke-width="1.25" fill="none" />
<path d="M307.8,367.0 L339.7,349.0" stroke="#222" stroke-width="1.25" fill="none" />
<path d="M307.8,365.5 L339.7,347.5" stroke="#222" stroke-width="1.00" fill="none" />
<path d="M307.8,364.0 L339.7,346.0" stroke="#222" stroke-width="1.00" fill="none" />
<path d="M309.8,388.9 L309.8,368.0" stroke="#222" stroke-width="1.00" fill="none" />
<path d="M307.5,395.9 L337.9,378.3 L337.9,372.4 L335.7,371.1 L305.3,388.7 L305.3,394.7 Z" stroke="#222" stroke-width="1.25" fill="#fff" />
<path d="M307.5,389.9 L337.9,372.4" stroke="#222" stroke-width="1.25" fill="none" />
<path d="M307.5,389.9 L307.5,395.9" stroke="#222" stroke-width="1.25" fill="none" />
<path d="M307.5,389.9 L305.3,388.7" stroke="#222" stroke-width="1.25" fill="none" />
<path d="M305.5,360.0 L305.5,394.9" stroke="#222" stroke-width="1.25" fill="none" />
<path d="M307.8,421.4 L335.9,405.2 L335.9,382.7 L334.4,381.8 L306.3,398.1 L306.3,420.5 Z" stroke="#222" stroke-width="1.25" fill="#fff" />
<path d="M307.8,398.9 L335.9,382.7" stroke="#222" stroke-width="1.25" fill="none" />
<path d="M307.8,398.9 L307.8,421.4" stroke="#222" stroke-width="1.25" fill="none" />
<path d="M307.8,398.9 L306.3,398.1" stroke="#222" stroke-width="1.25" fill="none" />
<path d="M309.8,420.2 L309.8,399.9" stroke="#222" stroke-width="1.00" fill="none" />
<path d="M307.8,400.4 L335.9,384.4" stroke="#222" stroke-width="1.00" fill="none" />
<path d="M295.5,365.5 L302.5,361.4 L302.5,336.4 L298.0,333.9 L291.0,337.9 L291.0,362.9 Z" stroke="#222" stroke-width="1.25" fill="#fff" />
<path d="M295.5,340.5 L302.5,336.4" stroke="#222" stroke-width="1.25" fill="none" />
<path d="M295.5,340.5 L295.5,365.5" stroke="#222" stroke-width="1.25" fill="none" />
<path d="M295.5,340.5 L291.0,337.9" stroke="#222" stroke-width="1.25" fill="none" />
<path d="M297.5,364.0 L297.5,341.0" stroke="#222" stroke-width="1.00" fill="none" />
<path d="M296.2,364.5 L296.2,341.5" stroke="#222" stroke-width="1.00" fill="none" />
<path d="M281.8,362.0 L289.8,357.4 L289.8,342.4 L285.8,340.1 L277.8,344.7 L277.8,359.7 Z" stroke="#222" stroke-width="1.25" fill="#fff" />
<path d="M281.8,347.0 L289.8,342.4" stroke="#222" stroke-width="1.25" fill="none" />
<path d="M281.8,347.0 L281.8,362.0" stroke="#222" stroke-width="1.25" fill="none" />
<path d="M281.8,347.0 L277.8,344.7" stroke="#222" stroke-width="1.25" fill="none" />
<path d="M285.0,360.0 L285.0,349.0" stroke="#222" stroke-width="1.00" fill="none" />
<path d="M303.5,350.0 L306.5,351.5 L306.5,358.0" stroke="#222" stroke-width="1.12" fill="none" />
<path d="M270.0,350.0 L295.0,369.0 L300.0,370.5" stroke="#222" stroke-width="0.12" fill="none" />
<path d="M270.0,351.8 L295.5,367.8" stroke="#222" stroke-width="1.25" fill="none" />
<path d="M270.0,364.0 L291.5,378.4" stroke="#222" stroke-width="1.25" fill="none" />
<path d="M270.0,355.0 L294.5,370.5" stroke="#222" stroke-width="1.00" fill="none" />
<path d="M270.0,361.0 L292.5,375.9" stroke="#222" stroke-width="1.00" fill="none" />
<path d="M295.5,367.8 C295.0,368.1 293.2,368.8 292.5,370.0 C291.8,371.1 291.2,373.0 291.2,374.5 C291.1,375.9 292.0,378.2 292.2,378.9" stroke="#222" stroke-width="1.12" fill="none" />
<circle cx="299.5" cy="375.0" r="5.0" stroke="#222" stroke-width="1.25" fill="#fff"/>
<circle cx="299.5" cy="375.2" r="2.8" stroke="#222" stroke-width="1.12" fill="none"/>
<circle cx="299.5" cy="375.4" r="1.3" stroke="#222" stroke-width="1.00" fill="none"/>
<path d="M296.2,378.9 C295.7,378.6 294.0,378.1 293.5,376.9 C293.0,375.8 292.8,373.3 293.2,372.0 C293.5,370.6 295.1,369.5 295.5,369.0" stroke="#222" stroke-width="1.00" fill="none" />
<line x1="277.9" y1="454.5" x2="370.8" y2="399.3" stroke="#222" stroke-width="1.25"/>
<line x1="280.4" y1="455.9" x2="371.8" y2="401.1" stroke="#222" stroke-width="1.12"/>
<line x1="281.9" y1="455.3" x2="300.2" y2="465.9" stroke="#222" stroke-width="1.12"/>
<line x1="283.2" y1="454.5" x2="301.5" y2="465.1" stroke="#222" stroke-width="1.12"/>
<line x1="284.5" y1="453.8" x2="299.5" y2="462.5" stroke="#222" stroke-width="0.88"/>
<line x1="286.4" y1="452.6" x2="304.7" y2="463.2" stroke="#222" stroke-width="1.12"/>
<line x1="287.7" y1="451.8" x2="306.0" y2="462.4" stroke="#222" stroke-width="1.12"/>
<line x1="289.0" y1="451.1" x2="304.0" y2="459.8" stroke="#222" stroke-width="0.88"/>
<line x1="290.9" y1="450.0" x2="309.2" y2="460.6" stroke="#222" stroke-width="1.12"/>
<line x1="292.2" y1="449.2" x2="310.5" y2="459.8" stroke="#222" stroke-width="1.12"/>
<line x1="293.5" y1="448.5" x2="308.5" y2="457.2" stroke="#222" stroke-width="0.88"/>
<line x1="295.4" y1="447.3" x2="313.7" y2="457.9" stroke="#222" stroke-width="1.12"/>
<line x1="296.7" y1="446.5" x2="315.0" y2="457.1" stroke="#222" stroke-width="1.12"/>
<line x1="298.0" y1="445.8" x2="313.0" y2="454.5" stroke="#222" stroke-width="0.88"/>
<line x1="299.9" y1="444.6" x2="318.2" y2="455.2" stroke="#222" stroke-width="1.12"/>
<line x1="301.2" y1="443.8" x2="319.5" y2="454.4" stroke="#222" stroke-width="1.12"/>
<line x1="302.5" y1="443.1" x2="317.5" y2="451.8" stroke="#222" stroke-width="0.88"/>
<line x1="304.4" y1="441.9" x2="322.7" y2="452.6" stroke="#222" stroke-width="1.12"/>
<line x1="305.7" y1="441.1" x2="324.0" y2="451.8" stroke="#222" stroke-width="1.12"/>
<line x1="307.0" y1="440.4" x2="322.0" y2="449.1" stroke="#222" stroke-width="0.88"/>
<line x1="308.9" y1="439.3" x2="327.2" y2="449.9" stroke="#222" stroke-width="1.12"/>
<line x1="310.2" y1="438.5" x2="328.5" y2="449.1" stroke="#222" stroke-width="1.12"/>
<line x1="311.5" y1="437.8" x2="326.5" y2="446.5" stroke="#222" stroke-width="0.88"/>
<line x1="313.4" y1="436.6" x2="331.7" y2="447.2" stroke="#222" stroke-width="1.12"/>
<line x1="314.7" y1="435.8" x2="333.0" y2="446.4" stroke="#222" stroke-width="1.12"/>
<line x1="316.0" y1="435.1" x2="331.0" y2="443.8" stroke="#222" stroke-width="0.88"/>
<line x1="317.9" y1="433.9" x2="336.2" y2="444.5" stroke="#222" stroke-width="1.12"/>
<line x1="319.2" y1="433.1" x2="337.5" y2="443.7" stroke="#222" stroke-width="1.12"/>
<line x1="320.5" y1="432.4" x2="335.5" y2="441.1" stroke="#222" stroke-width="0.88"/>
<line x1="322.4" y1="431.3" x2="340.7" y2="441.9" stroke="#222" stroke-width="1.12"/>
<line x1="323.7" y1="430.5" x2="342.0" y2="441.1" stroke="#222" stroke-width="1.12"/>
<line x1="325.0" y1="429.8" x2="340.0" y2="438.5" stroke="#222" stroke-width="0.88"/>
<line x1="326.9" y1="428.6" x2="345.2" y2="439.2" stroke="#222" stroke-width="1.12"/>
<line x1="328.2" y1="427.8" x2="346.5" y2="438.4" stroke="#222" stroke-width="1.12"/>
<line x1="329.5" y1="427.1" x2="344.5" y2="435.8" stroke="#222" stroke-width="0.88"/>
<line x1="331.3" y1="425.9" x2="349.6" y2="436.5" stroke="#222" stroke-width="1.12"/>
<line x1="332.6" y1="425.1" x2="350.9" y2="435.7" stroke="#222" stroke-width="1.12"/>
<line x1="333.9" y1="424.4" x2="348.9" y2="433.1" stroke="#222" stroke-width="0.88"/>
<line x1="335.8" y1="423.3" x2="354.1" y2="433.9" stroke="#222" stroke-width="1.12"/>
<line x1="337.1" y1="422.5" x2="355.4" y2="433.1" stroke="#222" stroke-width="1.12"/>
<line x1="338.4" y1="421.8" x2="353.4" y2="430.5" stroke="#222" stroke-width="0.88"/>
<line x1="340.3" y1="420.6" x2="358.6" y2="431.2" stroke="#222" stroke-width="1.12"/>
<line x1="341.6" y1="419.8" x2="359.9" y2="430.4" stroke="#222" stroke-width="1.12"/>
<line x1="342.9" y1="419.1" x2="357.9" y2="427.8" stroke="#222" stroke-width="0.88"/>
<line x1="344.8" y1="417.9" x2="363.1" y2="428.5" stroke="#222" stroke-width="1.12"/>
<line x1="346.1" y1="417.1" x2="364.4" y2="427.7" stroke="#222" stroke-width="1.12"/>
<line x1="347.4" y1="416.4" x2="362.4" y2="425.1" stroke="#222" stroke-width="0.88"/>
<line x1="349.3" y1="415.2" x2="367.6" y2="425.9" stroke="#222" stroke-width="1.12"/>
<line x1="350.6" y1="414.4" x2="368.9" y2="425.1" stroke="#222" stroke-width="1.12"/>
<line x1="351.9" y1="413.8" x2="366.9" y2="422.4" stroke="#222" stroke-width="0.88"/>
<line x1="353.8" y1="412.6" x2="372.1" y2="423.2" stroke="#222" stroke-width="1.12"/>
<line x1="355.1" y1="411.8" x2="373.4" y2="422.4" stroke="#222" stroke-width="1.12"/>
<line x1="356.4" y1="411.1" x2="371.4" y2="419.8" stroke="#222" stroke-width="0.88"/>
<line x1="358.3" y1="409.9" x2="376.6" y2="420.5" stroke="#222" stroke-width="1.12"/>
<line x1="359.6" y1="409.1" x2="377.9" y2="419.7" stroke="#222" stroke-width="1.12"/>
<line x1="360.9" y1="408.4" x2="375.9" y2="417.1" stroke="#222" stroke-width="0.88"/>
<line x1="362.8" y1="407.2" x2="381.1" y2="417.8" stroke="#222" stroke-width="1.12"/>
<line x1="364.1" y1="406.4" x2="382.4" y2="417.0" stroke="#222" stroke-width="1.12"/>
<line x1="365.4" y1="405.7" x2="380.4" y2="414.4" stroke="#222" stroke-width="0.88"/>
<line x1="367.3" y1="404.6" x2="385.6" y2="415.2" stroke="#222" stroke-width="1.12"/>
<line x1="368.6" y1="403.8" x2="386.9" y2="414.4" stroke="#222" stroke-width="1.12"/>
<line x1="369.9" y1="403.1" x2="384.9" y2="411.8" stroke="#222" stroke-width="0.88"/>
<line x1="371.8" y1="401.9" x2="390.1" y2="412.5" stroke="#222" stroke-width="1.12"/>
<line x1="373.1" y1="401.1" x2="391.4" y2="411.7" stroke="#222" stroke-width="1.12"/>
<line x1="374.4" y1="400.4" x2="389.4" y2="409.1" stroke="#222" stroke-width="0.88"/>
<path d="M338.9,449.0 L354.9,440.5 L356.4,441.5 L356.4,489.9 L352.9,497.9 L348.9,495.9" stroke="#222" stroke-width="1.25" fill="none" />
<path d="M364.4,428.0 L364.4,485.9 L367.4,488.9 L355.9,495.4" stroke="#222" stroke-width="1.25" fill="none" />
<path d="M354.9,440.5 L354.9,488.9" stroke="#222" stroke-width="1.00" fill="none" />
<path d="M348.9,488.9 L354.9,492.4" stroke="#222" stroke-width="1.00" fill="none" />
<path d="M317.5,460.0 C317.6,459.1 317.4,456.6 318.5,455.0 C319.5,453.3 321.9,451.1 324.0,450.0 C326.0,448.9 328.6,448.5 330.9,448.5 C333.3,448.5 336.3,449.1 337.9,450.0 C339.6,450.9 340.4,453.3 340.9,454.0" stroke="#222" stroke-width="1.25" fill="none" />
<path d="M326.9,460.0 C327.3,459.0 327.8,455.4 328.9,454.0 C330.1,452.6 332.3,451.6 333.9,451.5 C335.6,451.3 338.1,452.7 338.9,453.0" stroke="#222" stroke-width="1.12" fill="none" />
<path d="M317.5,460.0 L317.5,454.5 L323.0,451.0" stroke="#222" stroke-width="1.00" fill="none" />
<path d="M300.0,472.0 L339.9,449.0" stroke="#222" stroke-width="1.25" fill="none" />
<path d="M304.0,475.9 L341.9,454.0" stroke="#222" stroke-width="1.25" fill="none" />
<path d="M293.5,530.0 C293.5,521.5 293.3,488.2 293.5,478.9 C293.6,469.7 293.7,475.6 294.5,474.5 C295.2,473.3 296.9,472.3 298.0,472.0 C299.1,471.6 300.5,472.1 301.0,472.2" stroke="#222" stroke-width="1.38" fill="none" />
<path d="M296.8,530.0 C296.8,521.7 296.6,489.0 296.8,479.9 C297.0,470.9 297.3,476.9 298.0,475.9 C298.7,475.0 300.5,474.7 301.0,474.5" stroke="#222" stroke-width="1.25" fill="none" />
<path d="M293.5,530.0 C293.5,530.6 293.4,532.6 293.7,533.4 C294.0,534.2 294.7,534.6 295.2,534.7 C295.7,534.7 296.3,534.5 296.6,533.7 C296.8,532.9 296.7,530.6 296.8,530.0" stroke="#222" stroke-width="1.25" fill="none" />
<path d="M293.2,509.9 C292.7,510.3 291.2,510.6 290.5,511.9 C289.8,513.2 289.1,515.6 289.0,517.9 C288.8,520.2 289.1,523.6 289.5,525.9 C289.9,528.2 290.8,530.6 291.5,531.9 C292.2,533.1 293.3,533.1 293.7,533.4" stroke="#222" stroke-width="1.12" fill="none" />
<circle cx="301.0" cy="478.4" r="3.0" stroke="#222" stroke-width="1.25" fill="#fff"/>
<circle cx="301.0" cy="478.4" r="1.8" stroke="#222" stroke-width="1.12" fill="none"/>
<circle cx="301.0" cy="478.4" r="0.7" stroke="#222" stroke-width="1.00" fill="none"/>
<circle cx="304.0" cy="485.9" r="3.2" stroke="#222" stroke-width="1.25" fill="#fff"/>
<circle cx="304.0" cy="485.9" r="1.9" stroke="#222" stroke-width="1.12" fill="none"/>
<circle cx="304.0" cy="485.9" r="0.8" stroke="#222" stroke-width="1.00" fill="none"/>
<circle cx="340.7" cy="463.2" r="4.5" stroke="#222" stroke-width="1.25" fill="#fff"/>
<circle cx="340.7" cy="463.2" r="2.7" stroke="#222" stroke-width="1.12" fill="none"/>
<circle cx="340.7" cy="463.2" r="1.1" stroke="#222" stroke-width="1.00" fill="none"/>
<circle cx="303.0" cy="528.4" r="3.2" stroke="#222" stroke-width="1.25" fill="#fff"/>
<circle cx="303.0" cy="528.4" r="1.9" stroke="#222" stroke-width="1.12" fill="none"/>
<circle cx="303.0" cy="528.4" r="0.8" stroke="#222" stroke-width="1.00" fill="none"/>
<path d="M335.4,459.5 C335.6,460.0 335.9,461.7 336.4,463.0 C337.0,464.2 338.5,466.3 338.9,467.0" stroke="#222" stroke-width="1.12" fill="none" />
<circle cx="307.5" cy="477.9" r="0.9" stroke="#222" stroke-width="1.00" fill="none"/>
<circle cx="312.5" cy="480.4" r="0.9" stroke="#222" stroke-width="1.00" fill="none"/>
<circle cx="312.1" cy="475.3" r="0.9" stroke="#222" stroke-width="1.00" fill="none"/>
<circle cx="317.1" cy="477.8" r="0.9" stroke="#222" stroke-width="1.00" fill="none"/>
<circle cx="316.7" cy="472.6" r="0.9" stroke="#222" stroke-width="1.00" fill="none"/>
<circle cx="321.7" cy="475.1" r="0.9" stroke="#222" stroke-width="1.00" fill="none"/>
<circle cx="321.3" cy="470.0" r="0.9" stroke="#222" stroke-width="1.00" fill="none"/>
<circle cx="326.2" cy="472.5" r="0.9" stroke="#222" stroke-width="1.00" fill="none"/>
<circle cx="325.8" cy="467.3" r="0.9" stroke="#222" stroke-width="1.00" fill="none"/>
<circle cx="330.8" cy="469.8" r="0.9" stroke="#222" stroke-width="1.00" fill="none"/>
<circle cx="330.4" cy="464.7" r="0.9" stroke="#222" stroke-width="1.00" fill="none"/>
<circle cx="335.4" cy="467.2" r="0.9" stroke="#222" stroke-width="1.00" fill="none"/>
<path d="M306.0,468.0 L314.0,463.5 L318.0,465.5 L310.0,470.0 L306.0,468.0" stroke="#222" stroke-width="1.00" fill="none" />
<path d="M310.0,470.0 L310.0,472.0" stroke="#222" stroke-width="1.00" fill="none" />
<path d="M329.9,505.7 L347.4,495.6 L347.4,474.2 L340.4,470.1 L323.0,480.2 L323.0,501.7 Z" stroke="#222" stroke-width="1.25" fill="#fff" />
<path d="M329.9,484.2 L347.4,474.2" stroke="#222" stroke-width="1.25" fill="none" />
<path d="M329.9,484.2 L323.0,480.2" stroke="#222" stroke-width="1.25" fill="none" />
<path d="M329.9,484.2 L329.9,505.7" stroke="#222" stroke-width="1.25" fill="none" />
<path d="M328.4,479.9 L334.9,476.1 L338.9,477.9 L332.4,481.9 L328.4,479.9" stroke="#222" stroke-width="1.00" fill="none" />
<path d="M307.5,503.4 L319.0,496.8 L319.0,482.8 L313.5,479.6 L302.0,486.3 L302.0,500.3 Z" stroke="#222" stroke-width="1.25" fill="#fff" />
<path d="M307.5,489.4 L319.0,482.8" stroke="#222" stroke-width="1.25" fill="none" />
<path d="M307.5,489.4 L302.0,486.3" stroke="#222" stroke-width="1.25" fill="none" />
<path d="M307.5,489.4 L307.5,503.4" stroke="#222" stroke-width="1.25" fill="none" />
<path d="M299.0,493.9 L303.5,492.9" stroke="#222" stroke-width="1.62" fill="none" />
<path d="M299.0,502.9 L304.5,501.9" stroke="#222" stroke-width="1.62" fill="none" />
<path d="M303.0,494.4 L304.0,500.9" stroke="#222" stroke-width="1.12" fill="none" />
<path d="M305.5,493.4 L305.5,502.9" stroke="#222" stroke-width="1.00" fill="none" />
<path d="M325.9,506.9 L331.9,509.4 L343.9,502.9 L343.9,507.9 L333.9,513.4 L327.4,510.4" stroke="#222" stroke-width="1.25" fill="none" />
<path d="M335.4,512.4 L335.4,508.4" stroke="#222" stroke-width="1.00" fill="none" />
<path d="M338.9,510.4 L338.9,506.4" stroke="#222" stroke-width="1.00" fill="none" />
<path d="M341.9,508.9 L341.9,504.9" stroke="#222" stroke-width="1.00" fill="none" />
<path d="M302.3,508.1 L311.8,511.6 L318.1,510.6 L326.4,512.9 L330.9,527.2 L313.3,527.2 L302.9,522.7 Z" stroke="#222" stroke-width="0.12" fill="#fff" />
<path d="M302.9,522.7 C302.5,521.4 300.5,517.5 300.3,515.1 C300.2,512.6 301.9,509.2 302.3,508.1" stroke="#222" stroke-width="1.12" fill="none" />
<path d="M302.3,508.1 L311.8,511.6" stroke="#222" stroke-width="1.25" fill="none" />
<path d="M302.9,522.7 L309.9,526.5" stroke="#222" stroke-width="1.12" fill="none" />
<path d="M318.1,510.6 L326.4,512.9" stroke="#222" stroke-width="1.25" fill="none" />
<ellipse cx="328.7" cy="520.2" rx="5.6" ry="7.4" transform="rotate(20 328.7 520.2)" stroke="#222" stroke-width="1.25" fill="#fff"/>
<ellipse cx="329.6" cy="520.5" rx="4.8" ry="6.6" transform="rotate(20 329.6 520.5)" stroke="#222" stroke-width="1.00" fill="none"/>
<ellipse cx="313.3" cy="519.3" rx="6.0" ry="7.6" transform="rotate(20 313.3 519.3)" stroke="#222" stroke-width="1.25" fill="#fff"/>
<ellipse cx="314.3" cy="519.7" rx="5.1" ry="6.9" transform="rotate(20 314.3 519.7)" stroke="#222" stroke-width="1.00" fill="none"/>
<path d="M300.0,509.9 L300.0,525.9" stroke="#222" stroke-width="1.12" fill="none" />
<path d="M300.0,509.9 L312.0,503.9" stroke="#222" stroke-width="1.12" fill="none" />
<path d="M302.0,510.9 L302.0,524.9" stroke="#222" stroke-width="1.00" fill="none" />
<path d="M293.5,530.0 C293.7,529.3 293.9,526.9 295.0,525.9 C296.1,524.9 298.1,524.1 300.0,523.9 C301.8,523.7 304.3,524.2 306.0,524.9 C307.6,525.6 309.2,527.1 310.0,527.9 C310.7,528.8 310.4,529.7 310.5,530.0" stroke="#222" stroke-width="1.25" fill="none" />
<path d="M283.9,401.5 L287.9,403.5 L287.9,427.0 L280.9,431.0 L280.9,410.0 Z" stroke="#222" stroke-width="1.25" fill="#fff" />
<path d="M222.5,383.5 L246.5,397.5 L283.9,375.5 L283.9,409.5 L246.5,430.5 L222.5,417.2 Z" stroke="#222" stroke-width="1.25" fill="#fff" />
<path d="M246.5,397.5 L246.5,430.5" stroke="#222" stroke-width="1.25" fill="none" />
<path d="M222.5,383.5 L259.9,362.0" stroke="#222" stroke-width="1.25" fill="none" />
<path d="M229.0,391.2 L241.5,398.5 L241.5,423.2 L229.0,415.2 L229.0,391.2" stroke="#222" stroke-width="1.25" fill="none" />
<path d="M229.0,403.0 L241.5,396.5" stroke="#222" stroke-width="1.12" fill="none" />
<path d="M224.5,399.0 L229.0,401.2" stroke="#222" stroke-width="1.25" fill="none" />
<path d="M224.5,399.0 L224.5,404.5 L229.0,407.0" stroke="#222" stroke-width="1.12" fill="none" />
<path d="M229.0,404.5 L241.5,398.0" stroke="#222" stroke-width="1.12" fill="none" />
<path d="M230.0,407.5 L241.5,401.5" stroke="#222" stroke-width="1.12" fill="none" />
<path d="M230.0,407.5 L230.0,415.5" stroke="#222" stroke-width="1.12" fill="none" />
<path d="M230.0,415.5 L241.5,409.5" stroke="#222" stroke-width="1.12" fill="none" />
<path d="M223.5,425.5 L225.0,424.5 L250.5,438.9 L279.9,422.0 L279.9,449.9 L250.5,466.7 L223.5,451.9 Z" stroke="#222" stroke-width="1.25" fill="#fff" />
<path d="M250.5,438.9 L250.5,466.7" stroke="#222" stroke-width="2.00" fill="none" />
<path d="M233.0,430.0 L248.0,438.4 L276.9,421.8" stroke="#222" stroke-width="1.12" fill="none" />
<path d="M250.5,441.4 L279.9,424.5" stroke="#222" stroke-width="1.12" fill="none" />
<path d="M250.5,442.9 L279.9,425.8" stroke="#222" stroke-width="1.00" fill="none" />
<path d="M224.0,426.0 L224.0,452.1" stroke="#222" stroke-width="1.88" fill="none" />
<path d="M226.2,427.2 L226.2,453.4" stroke="#222" stroke-width="1.88" fill="none" />
<path d="M233.0,431.0 L233.0,457.2" stroke="#222" stroke-width="1.88" fill="none" />
<path d="M235.2,432.2 L235.2,458.4" stroke="#222" stroke-width="1.88" fill="none" />
<path d="M240.2,435.0 L240.2,461.2" stroke="#222" stroke-width="1.88" fill="none" />
<path d="M242.2,436.1 L242.2,462.3" stroke="#222" stroke-width="1.88" fill="none" />
<path d="M248.0,439.4 L248.0,465.6" stroke="#222" stroke-width="1.88" fill="none" />
<path d="M226.2,432.0 L233.0,435.9" stroke="#222" stroke-width="1.50" fill="none" />
<path d="M235.2,436.9 L240.2,439.9" stroke="#222" stroke-width="1.50" fill="none" />
<path d="M242.2,440.9 L248.0,444.4" stroke="#222" stroke-width="1.50" fill="none" />
<path d="M226.2,439.9 L233.0,443.9" stroke="#222" stroke-width="1.50" fill="none" />
<path d="M235.2,444.9 L240.2,447.9" stroke="#222" stroke-width="1.50" fill="none" />
<path d="M242.2,448.9 L248.0,452.4" stroke="#222" stroke-width="1.50" fill="none" />
<path d="M226.2,447.9 L233.0,451.9" stroke="#222" stroke-width="1.50" fill="none" />
<path d="M235.2,452.9 L240.2,455.9" stroke="#222" stroke-width="1.50" fill="none" />
<path d="M242.2,456.9 L248.0,460.4" stroke="#222" stroke-width="1.50" fill="none" />
<path d="M223.5,451.9 L250.5,466.7" stroke="#222" stroke-width="1.75" fill="none" />
<path d="M225.0,449.9 L250.5,464.4" stroke="#222" stroke-width="1.25" fill="none" />
<path d="M253.0,443.7 L260.4,439.4 L260.4,445.4 L253.0,449.7 L253.0,443.7" stroke="#222" stroke-width="1.50" fill="none" />
<path d="M254.5,445.4 L258.9,442.9 L258.9,445.9 L254.5,448.4" stroke="#222" stroke-width="1.25" fill="none" />
<path d="M253.0,457.2 L260.4,452.9 L260.4,458.9 L253.0,463.2 L253.0,457.2" stroke="#222" stroke-width="1.50" fill="none" />
<path d="M254.5,458.9 L258.9,456.4 L258.9,459.4 L254.5,461.9" stroke="#222" stroke-width="1.25" fill="none" />
<path d="M248.0,432.5 L255.9,428.0 L258.9,429.8 L251.5,434.2" stroke="#222" stroke-width="1.38" fill="none" />
<path d="M223.5,462.9 L225.0,461.9 L250.5,476.4 L279.9,459.4 L279.9,487.4 L250.5,504.2 L223.5,489.4 Z" stroke="#222" stroke-width="1.25" fill="#fff" />
<path d="M250.5,476.4 L250.5,504.2" stroke="#222" stroke-width="2.00" fill="none" />
<path d="M233.0,467.4 L248.0,475.9 L276.9,459.2" stroke="#222" stroke-width="1.12" fill="none" />
<path d="M250.5,478.9 L279.9,461.9" stroke="#222" stroke-width="1.12" fill="none" />
<path d="M250.5,480.4 L279.9,463.2" stroke="#222" stroke-width="1.00" fill="none" />
<path d="M224.0,463.4 L224.0,489.6" stroke="#222" stroke-width="1.88" fill="none" />
<path d="M226.2,464.7 L226.2,490.8" stroke="#222" stroke-width="1.88" fill="none" />
<path d="M233.0,468.5 L233.0,494.6" stroke="#222" stroke-width="1.88" fill="none" />
<path d="M235.2,469.7 L235.2,495.9" stroke="#222" stroke-width="1.88" fill="none" />
<path d="M240.2,472.5 L240.2,498.7" stroke="#222" stroke-width="1.88" fill="none" />
<path d="M242.2,473.6 L242.2,499.8" stroke="#222" stroke-width="1.88" fill="none" />
<path d="M248.0,476.9 L248.0,503.0" stroke="#222" stroke-width="1.88" fill="none" />
<path d="M226.2,469.4 L233.0,473.4" stroke="#222" stroke-width="1.50" fill="none" />
<path d="M235.2,474.4 L240.2,477.4" stroke="#222" stroke-width="1.50" fill="none" />
<path d="M242.2,478.4 L248.0,481.9" stroke="#222" stroke-width="1.50" fill="none" />
<path d="M226.2,477.4 L233.0,481.4" stroke="#222" stroke-width="1.50" fill="none" />
<path d="M235.2,482.4 L240.2,485.4" stroke="#222" stroke-width="1.50" fill="none" />
<path d="M242.2,486.4 L248.0,489.9" stroke="#222" stroke-width="1.50" fill="none" />
<path d="M226.2,485.4 L233.0,489.4" stroke="#222" stroke-width="1.50" fill="none" />
<path d="M235.2,490.4 L240.2,493.4" stroke="#222" stroke-width="1.50" fill="none" />
<path d="M242.2,494.4 L248.0,497.9" stroke="#222" stroke-width="1.50" fill="none" />
<path d="M223.5,489.4 L250.5,504.2" stroke="#222" stroke-width="1.75" fill="none" />
<path d="M225.0,487.4 L250.5,501.9" stroke="#222" stroke-width="1.25" fill="none" />
<path d="M253.0,481.2 L260.4,476.9 L260.4,482.9 L253.0,487.2 L253.0,481.2" stroke="#222" stroke-width="1.50" fill="none" />
<path d="M254.5,482.9 L258.9,480.4 L258.9,483.4 L254.5,485.9" stroke="#222" stroke-width="1.25" fill="none" />
<path d="M253.0,494.7 L260.4,490.4 L260.4,496.4 L253.0,500.7 L253.0,494.7" stroke="#222" stroke-width="1.50" fill="none" />
<path d="M254.5,496.4 L258.9,493.9 L258.9,496.9 L254.5,499.4" stroke="#222" stroke-width="1.25" fill="none" />
<path d="M248.0,469.9 L255.9,465.4 L258.9,467.2 L251.5,471.6" stroke="#222" stroke-width="1.38" fill="none" />
<path d="M191.5,409.6 L222.5,427.5" stroke="#222" stroke-width="1.25" fill="none" />
<path d="M191.5,414.6 L223.5,433.0" stroke="#222" stroke-width="1.25" fill="none" />
<path d="M191.5,429.1 L223.5,447.4" stroke="#222" stroke-width="1.62" fill="none" />
<path d="M191.5,431.6 L223.5,449.9" stroke="#222" stroke-width="1.12" fill="none" />
<line x1="180.0" y1="509.4" x2="286.0" y2="569.5" stroke="#222" stroke-width="1.25"/>
<line x1="186.3" y1="505.4" x2="430.5" y2="643.1" stroke="#222" stroke-width="1.25"/>
<line x1="189.0" y1="501.8" x2="430.5" y2="638.4" stroke="#222" stroke-width="1.12"/>
<line x1="191.4" y1="499.0" x2="430.5" y2="634.6" stroke="#222" stroke-width="1.12"/>
<path d="M193.6,495.4 L260.8,532.7" stroke="#222" stroke-width="1.25" fill="none" />
<path d="M195.4,490.9 L248.1,520.9" stroke="#222" stroke-width="1.00" fill="none" />
<path d="M186.3,505.4 L186.3,480.0" stroke="#222" stroke-width="1.25" fill="none" />
<path d="M189.1,501.8 L189.1,480.0" stroke="#222" stroke-width="1.25" fill="none" />
<path d="M191.4,499.1 L191.4,480.0" stroke="#222" stroke-width="1.00" fill="none" />
<path d="M193.6,495.4 L193.6,480.0" stroke="#222" stroke-width="1.00" fill="none" />
<path d="M180.0,509.1 L186.3,505.4" stroke="#222" stroke-width="1.12" fill="none" />
<path d="M289.0,567.2 C289.1,566.4 289.1,564.2 289.9,562.7 C290.6,561.1 292.3,559.3 293.5,558.1 C294.7,556.9 295.3,555.8 297.2,555.4 C299.0,554.9 303.2,555.4 304.4,555.4" stroke="#222" stroke-width="1.25" fill="none" />
<path d="M304.4,555.4 L308.4,559.0 L315.3,556.3" stroke="#222" stroke-width="1.12" fill="none" />
<path d="M284.4,569.0 L284.4,633.5" stroke="#222" stroke-width="1.25" fill="none" />
<path d="M284.4,633.5 C284.3,633.7 284.1,634.6 283.5,634.8 C282.9,634.9 281.3,634.5 280.8,634.4" stroke="#222" stroke-width="1.12" fill="none" />
<path d="M280.8,634.4 L225.4,603.9" stroke="#222" stroke-width="1.25" fill="none" />
<path d="M225.4,603.9 C225.0,603.8 223.2,603.1 222.7,603.5 C222.1,603.9 222.2,605.8 222.1,606.2" stroke="#222" stroke-width="1.12" fill="none" />
<path d="M222.1,606.2 L222.1,628.0" stroke="#222" stroke-width="1.25" fill="none" />
<line x1="286.0" y1="569.5" x2="426.5" y2="650.5" stroke="#222" stroke-width="1.25"/>
<line x1="336.5" y1="575.0" x2="431.5" y2="628.5" stroke="#222" stroke-width="1.25"/>
<line x1="339.0" y1="573.5" x2="431.5" y2="625.5" stroke="#222" stroke-width="1.00"/>
<path d="M426.5,650.5 L431.7,655 M426.5,650.5 L426.5,712.4 Q426.8,720 431.4,722.4 L502.8,761.3" stroke="#222" stroke-width="1.25" fill="none" />
<path d="M431.4,722.4 L502.8,761.3" stroke="#222" stroke-width="0.75" fill="none" />
<path d="M260.8,519.1 L282.6,531.8" stroke="#222" stroke-width="1.62" fill="none" />
<path d="M260.8,522.7 L280.8,534.1" stroke="#222" stroke-width="1.00" fill="none" />
<path d="M249.9,501.8 L249.9,525.4" stroke="#222" stroke-width="1.25" fill="none" />
<path d="M260.8,498.2 L260.8,532.7" stroke="#222" stroke-width="1.25" fill="none" />
<path d="M280.8,507.2 L280.8,534.1" stroke="#222" stroke-width="1.00" fill="none" />
<path d="M281.7,534.5 L297.2,538.1" stroke="#222" stroke-width="1.00" fill="none" />
<path d="M333.5,558.1 C334.5,558.9 338.6,560.8 339.8,562.7 C341.1,564.5 341.4,567.0 340.8,569.0 C340.1,571.0 337.0,573.6 336.2,574.5" stroke="#222" stroke-width="1.25" fill="none" />
<path d="M304.4,555.4 C305.0,554.9 306.5,553.3 308.1,552.7 C309.6,552.1 312.6,551.9 313.5,551.8" stroke="#222" stroke-width="1.12" fill="none" />
<path d="M332.6,557.2 L370.0,535.4" stroke="#222" stroke-width="1.25" fill="none" />
<path d="M313.5,543.6 L313.5,569.0 L316.2,571.7 L323.5,571.7 L326.6,569.0 L326.6,543.6 Z" stroke="#222" stroke-width="0.12" fill="#fff" />
<path d="M313.5,543.6 L313.5,569.0" stroke="#222" stroke-width="1.25" fill="none" />
<path d="M326.6,543.6 L326.6,569.0" stroke="#222" stroke-width="1.25" fill="none" />
<path d="M313.5,568.6 C314.0,569.1 315.1,570.8 316.2,571.4 C317.4,571.9 319.0,572.1 320.4,572.1 C321.8,572.1 323.4,571.8 324.4,571.2 C325.4,570.6 326.2,569.1 326.6,568.6" stroke="#222" stroke-width="1.12" fill="none" />
<path d="M310.8,565.4 C311.2,566.6 311.8,571.1 313.5,572.6 C315.2,574.2 318.3,574.5 320.8,574.5 C323.2,574.4 326.5,573.6 328.0,572.3 C329.6,570.9 329.6,567.3 329.9,566.3" stroke="#222" stroke-width="1.12" fill="none" />
<ellipse cx="319.9" cy="541.8" rx="11.3" ry="6.5" transform="rotate(0 319.9 541.8)" stroke="#222" stroke-width="1.25" fill="#fff"/>
<rect x="308.8" y="536.7" width="22.2" height="5.1" fill="#fff"/>
<path d="M308.6,536.7 L308.6,541.8" stroke="#222" stroke-width="1.25" fill="none" />
<path d="M331.1,536.7 L331.1,541.8" stroke="#222" stroke-width="1.25" fill="none" />
<ellipse cx="319.9" cy="536.7" rx="11.3" ry="6.5" transform="rotate(0 319.9 536.7)" stroke="#222" stroke-width="1.25" fill="#fff"/>
<ellipse cx="319.9" cy="536.3" rx="8.2" ry="4.5" transform="rotate(0 319.9 536.3)" stroke="#222" stroke-width="1.12" fill="none"/>
<path d="M379.6,595.3 C379.6,584.7 379.0,544.7 379.6,531.4 C380.2,518.1 381.0,520.7 383.3,515.4 C385.6,510.1 388.8,504.3 393.4,499.4 C398.0,494.6 404.3,489.8 410.9,486.3 C417.4,482.8 425.4,480.2 432.7,478.3 C439.9,476.5 447.2,475.8 454.5,475.4 C461.7,475.1 470.6,475.6 476.3,476.2 C481.9,476.8 486.6,478.6 488.6,479.1" stroke="#222" stroke-width="1.38" fill="none" />
<path d="M380.1,533.6 C381.6,536.1 385.1,544.5 389.1,548.8 C393.0,553.1 398.8,556.6 403.6,559.3 C408.4,562.0 413.6,563.8 418.1,565.1 C422.6,566.4 428.4,566.7 430.5,567.0" stroke="#222" stroke-width="1.25" fill="none" />
<path d="M382.5,531.4 C384.0,533.6 387.4,540.5 391.2,544.5 C395.1,548.4 400.6,552.1 405.8,554.9 C411.0,557.7 418.3,559.8 422.5,561.2 C426.7,562.5 429.8,562.7 431.2,563.1" stroke="#222" stroke-width="1.12" fill="none" />
<path d="M374.5,593.1 C374.8,592.1 375.1,588.9 376.0,586.6 C376.8,584.3 379.0,580.5 379.6,579.3" stroke="#222" stroke-width="1.12" fill="none" />
<path d="M360.0,540.8 L379.2,529.9" stroke="#222" stroke-width="1.25" fill="none" />
<ellipse cx="423.2" cy="498.0" rx="14.1" ry="8.7" transform="rotate(-5 423.2 498.0)" stroke="#222" stroke-width="1.38" fill="none"/>
<ellipse cx="423.2" cy="498.0" rx="12.5" ry="7.4" transform="rotate(-5 423.2 498.0)" stroke="#222" stroke-width="1.12" fill="none"/>
<ellipse cx="408.7" cy="529.9" rx="14.1" ry="8.7" transform="rotate(-5 408.7 529.9)" stroke="#222" stroke-width="1.38" fill="none"/>
<ellipse cx="408.7" cy="529.9" rx="12.5" ry="7.4" transform="rotate(-5 408.7 529.9)" stroke="#222" stroke-width="1.12" fill="none"/>
<path d="M464.6,492.1 C464.9,491.1 464.6,487.4 466.1,485.6 C467.5,483.8 470.4,482.1 473.4,481.2 C476.3,480.4 481.8,480.6 483.5,480.5" stroke="#222" stroke-width="1.38" fill="none" />
<path d="M466.8,491.4 C467.2,490.6 467.4,487.8 469.0,486.3 C470.6,484.9 473.6,483.4 476.3,482.7 C478.9,482.0 483.5,482.3 485.0,482.3" stroke="#222" stroke-width="1.12" fill="none" />
<path d="M439.2,498.0 C439.4,497.2 439.3,494.8 440.7,493.6 C442.0,492.4 444.2,491.1 447.2,490.7 C450.2,490.3 456.3,490.7 458.8,491.4 C461.4,492.1 461.8,494.4 462.5,495.0" stroke="#222" stroke-width="1.38" fill="none" />
<path d="M441.4,496.5 C441.6,496.1 441.6,495.0 442.8,494.3 C444.0,493.6 446.2,492.7 448.6,492.4 C451.1,492.2 455.9,492.9 457.4,493.0" stroke="#222" stroke-width="1.00" fill="none" />
<path d="M441.4,494.3 L441.4,509.6" stroke="#222" stroke-width="1.25" fill="none" />
<path d="M444.3,493.6 L444.3,507.4" stroke="#222" stroke-width="1.00" fill="none" />
<path d="M455.9,492.1 L455.9,498.7" stroke="#222" stroke-width="1.12" fill="none" />
<path d="M410.1,518.3 C410.6,517.1 411.2,512.8 413.0,511.0 C414.9,509.3 417.8,508.4 421.0,507.7 C424.3,507.0 429.9,507.3 432.7,506.7 C435.4,506.0 436.9,504.3 437.7,503.8" stroke="#222" stroke-width="1.38" fill="none" />
<path d="M412.3,518.3 C412.8,517.4 413.4,514.2 414.9,512.8 C416.5,511.3 418.9,510.3 421.8,509.6 C424.6,508.9 430.2,508.6 431.9,508.4" stroke="#222" stroke-width="1.00" fill="none" />
<path d="M414.5,511.8 L414.5,520.0" stroke="#222" stroke-width="1.25" fill="none" />
<path d="M419.6,508.4 L419.6,521.5" stroke="#222" stroke-width="1.12" fill="none" />
<path d="M410.1,518.3 L414.5,520.0" stroke="#222" stroke-width="1.12" fill="none" />
<path d="M419.6,536.9 C419.9,537.6 420.3,540.0 421.8,541.3 C423.2,542.5 426.7,543.7 428.3,544.5 C429.9,545.2 430.7,545.7 431.2,545.9" stroke="#222" stroke-width="1.38" fill="none" />
<path d="M422.5,535.0 C422.9,535.7 423.6,538.2 424.7,539.4 C425.8,540.6 428.3,541.8 429.0,542.3" stroke="#222" stroke-width="1.00" fill="none" />
<path d="M427.6,535.0 L427.6,543.0" stroke="#222" stroke-width="1.12" fill="none" />
<path d="M418.9,566.3 L418.9,584.4" stroke="#222" stroke-width="1.25" fill="none" />
<path d="M421.0,561.9 C422.1,562.5 426.1,564.0 427.6,565.5 C429.1,567.1 429.6,570.4 430.0,571.3" stroke="#222" stroke-width="1.12" fill="none" />
<path d="M410.9,610.0 L428.3,571.3" stroke="#222" stroke-width="1.25" fill="none" />
<path d="M407.2,610.0 L423.9,574.3" stroke="#222" stroke-width="1.25" fill="none" />
<path d="M423.9,574.3 C423.8,573.8 423.9,572.7 423.2,571.3 C422.5,570.0 420.2,567.1 419.6,566.3" stroke="#222" stroke-width="1.00" fill="none" />
<path d="M476.3,474.7 L499.5,460.9" stroke="#222" stroke-width="1.25" fill="none" />
<path d="M499.5,460.9 C500.2,460.3 502.9,458.8 503.9,457.3 C504.8,455.7 505.1,452.4 505.3,451.5" stroke="#222" stroke-width="1.12" fill="none" />
<path d="M483.5,478.3 L506.8,464.5" stroke="#222" stroke-width="1.25" fill="none" />
<path d="M506.8,464.5 C507.5,464.3 509.6,463.2 511.1,463.1 C512.7,463.0 515.4,463.7 516.2,463.8" stroke="#222" stroke-width="1.12" fill="none" />
<path d="M516.2,463.8 L520.0,461.6" stroke="#222" stroke-width="1.25" fill="none" />
<path d="M487.9,450.0 L499.5,456.5" stroke="#222" stroke-width="1.12" fill="none" />
<path d="M505.3,450.0 L515.5,455.8 L517.7,455.1 L517.7,450.0" stroke="#222" stroke-width="1.12" fill="none" />
<path d="M365.8,450.0 L365.8,487.5 L368.0,488.9" stroke="#222" stroke-width="1.25" fill="none" />
<path d="M360.0,493.6 L366.5,488.9" stroke="#222" stroke-width="1.25" fill="none" />
<path d="M268.2,355.3 L297.2,367.7 L292.7,378.2 L264.7,361.6 Z" stroke="#222" stroke-width="0.12" fill="#fff" />
<path d="M268.2,355.3 L297.2,367.7" stroke="#222" stroke-width="1.25" fill="none" />
<path d="M264.7,361.6 L292.7,378.2" stroke="#222" stroke-width="1.25" fill="none" />
<path d="M268.2,355.3 C267.7,355.4 266.0,355.7 265.4,356.3 C264.7,356.9 264.2,358.2 264.1,359.1 C264.0,360.0 264.6,361.2 264.7,361.6" stroke="#222" stroke-width="1.25" fill="none" />
<path d="M271.7,356.9 C271.3,357.2 269.9,357.8 269.4,358.6 C269.0,359.3 268.8,360.5 268.9,361.4 C269.0,362.3 269.8,363.5 269.9,363.9" stroke="#222" stroke-width="1.00" fill="none" />
<path d="M295.2,369.0 C294.9,369.4 293.6,370.3 293.1,371.3 C292.6,372.3 292.3,373.6 292.3,374.7 C292.4,375.9 293.2,377.6 293.3,378.2" stroke="#222" stroke-width="1.12" fill="none" />
<circle cx="299.7" cy="374.7" r="4.6" stroke="#222" stroke-width="1.25" fill="#fff"/>
<circle cx="299.7" cy="374.7" r="2.5" stroke="#222" stroke-width="1.12" fill="none"/>
<circle cx="299.7" cy="374.7" r="1.1" stroke="#222" stroke-width="1.00" fill="none"/>
<path d="M488.4,358.0 L488.4,287.4 L489.6,285.1 L491.6,285.1 L492.4,288.0 L492.4,357.3" stroke="#222" stroke-width="1.25" fill="none" />
<path d="M488.4,358.0 L492.4,357.3" stroke="#222" stroke-width="1.25" fill="none" />
<path d="M492.4,291.2 L494.1,285.1 L496.0,284.2 L496.9,291.2" stroke="#222" stroke-width="1.25" fill="none" />
<path d="M492.4,295.0 L501.1,297.8 L501.1,332.2 L493.5,336.0" stroke="#222" stroke-width="1.25" fill="none" />
<path d="M496.9,291.2 L501.1,297.8" stroke="#222" stroke-width="1.25" fill="none" />
<path d="M462.6,296.3 L487.7,289.3 L487.7,301.4 L462.9,308.6 L462.6,296.3" stroke="#222" stroke-width="1.25" fill="none" />
<path d="M400.0,260.4 L462.6,296.3" stroke="#222" stroke-width="1.25" fill="none" />
<path d="M400.0,272.4 L455.9,304.2" stroke="#222" stroke-width="1.25" fill="none" />
<path d="M400.0,283.6 L444.5,309.0 L444.5,301.4" stroke="#222" stroke-width="1.25" fill="none" />
<path d="M444.5,309.0 L442.0,310.5 L400.0,286.8" stroke="#222" stroke-width="1.25" fill="none" />
<path d="M400.0,296.3 L442.0,320.5" stroke="#222" stroke-width="1.25" fill="none" />
<path d="M462.9,308.6 L455.9,304.2" stroke="#222" stroke-width="1.25" fill="none" />
<circle cx="457.9" cy="300.7" r="2.2" stroke="#222" stroke-width="0.75" fill="none"/>
<circle cx="420.0" cy="279.1" r="2.2" stroke="#222" stroke-width="0.75" fill="none"/>
<path d="M421.6,246.1 L442.6,258.1 L449.6,254.3 L461.0,258.1" stroke="#222" stroke-width="1.25" fill="none" />
<path d="M461.0,258.1 L481.4,283.6 L487.7,286.4" stroke="#222" stroke-width="1.25" fill="none" />
<path d="M466.1,258.8 L489.0,284.2" stroke="#222" stroke-width="1.25" fill="none" />
<path d="M461.0,258.1 L466.1,258.8" stroke="#222" stroke-width="1.25" fill="none" />
<path d="M456.6,264.5 L462.6,262.6 L462.6,270.2" stroke="#222" stroke-width="1.25" fill="none" />
<path d="M456.6,264.5 L462.6,270.2" stroke="#222" stroke-width="1.25" fill="none" />
<path d="M466.1,258.1 L469.3,260.7 L469.9,263.9 L468.0,262.6" stroke="#222" stroke-width="1.25" fill="none" />
<path d="M445.8,254.3 L445.8,231.4" stroke="#222" stroke-width="1.25" fill="none" />
<path d="M450.9,253.7 L450.9,228.9" stroke="#222" stroke-width="1.25" fill="none" />
<path d="M482.0,220.0 L483.3,225.7 L483.3,279.8" stroke="#222" stroke-width="1.25" fill="none" />
<path d="M442.0,320.5 L442.0,313.5 L447.0,309.0 L459.8,314.1 L487.7,342.7" stroke="#222" stroke-width="1.25" fill="none" />
<path d="M445.8,301.4 L445.8,310.9" stroke="#222" stroke-width="1.25" fill="none" />
<path d="M450.9,303.3 L450.9,309.6" stroke="#222" stroke-width="1.25" fill="none" />
<path d="M455.9,304.2 L455.9,312.2" stroke="#222" stroke-width="1.25" fill="none" />
<path d="M400.0,317.9 L462.6,353.5 L487.7,345.9" stroke="#222" stroke-width="1.25" fill="none" />
<path d="M400.0,321.7 L463.6,358.0 L487.7,351.0" stroke="#222" stroke-width="1.25" fill="none" />
<path d="M462.6,353.5 L463.6,358.0" stroke="#222" stroke-width="1.25" fill="none" />
<path d="M459.8,314.1 L459.8,320.5" stroke="#222" stroke-width="1.25" fill="none" />
<path d="M465.4,272.8 L466.1,272.0 L466.9,272.8 L466.1,273.5 Z" stroke="#222" stroke-width="0.88" fill="none" />
<path d="M469.8,277.2 L470.6,276.5 L471.3,277.2 L470.6,278.0 Z" stroke="#222" stroke-width="0.88" fill="none" />
<path d="M474.3,279.1 L475.0,278.4 L475.8,279.1 L475.0,279.9 Z" stroke="#222" stroke-width="0.88" fill="none" />
<path d="M467.9,309.0 L468.7,308.2 L469.4,309.0 L468.7,309.8 Z" stroke="#222" stroke-width="0.88" fill="none" />
<path d="M470.4,313.5 L471.2,312.7 L472.0,313.5 L471.2,314.2 Z" stroke="#222" stroke-width="0.88" fill="none" />
<path d="M466.6,314.7 L467.4,314.0 L468.2,314.7 L467.4,315.5 Z" stroke="#222" stroke-width="0.88" fill="none" />
<path d="M469.2,317.9 L469.9,317.1 L470.7,317.9 L469.9,318.7 Z" stroke="#222" stroke-width="0.88" fill="none" />
<path d="M473.0,320.5 L473.8,319.7 L474.5,320.5 L473.8,321.2 Z" stroke="#222" stroke-width="0.88" fill="none" />
<path d="M475.5,317.3 L476.3,316.5 L477.1,317.3 L476.3,318.0 Z" stroke="#222" stroke-width="0.88" fill="none" />
<path d="M478.1,321.7 L478.8,321.0 L479.6,321.7 L478.8,322.5 Z" stroke="#222" stroke-width="0.88" fill="none" />
<path d="M480.6,318.5 L481.4,317.8 L482.1,318.5 L481.4,319.3 Z" stroke="#222" stroke-width="0.88" fill="none" />
<path d="M483.2,315.4 L483.9,314.6 L484.7,315.4 L483.9,316.1 Z" stroke="#222" stroke-width="0.88" fill="none" />
<path d="M482.5,306.5 L483.3,305.7 L484.1,306.5 L483.3,307.2 Z" stroke="#222" stroke-width="0.88" fill="none" />
<path d="M479.3,309.6 L480.1,308.9 L480.9,309.6 L480.1,310.4 Z" stroke="#222" stroke-width="0.88" fill="none" />
<path d="M476.8,311.6 L477.6,310.8 L478.3,311.6 L477.6,312.3 Z" stroke="#222" stroke-width="0.88" fill="none" />
<path d="M482.5,324.3 L483.3,323.5 L484.1,324.3 L483.3,325.0 Z" stroke="#222" stroke-width="0.88" fill="none" />
<path d="M485.7,325.5 L486.5,324.8 L487.2,325.5 L486.5,326.3 Z" stroke="#222" stroke-width="0.88" fill="none" />
<path d="M483.8,329.4 L484.6,328.6 L485.3,329.4 L484.6,330.1 Z" stroke="#222" stroke-width="0.88" fill="none" />
<path d="M487.0,329.1 L487.7,328.3 L488.5,329.1 L487.7,329.9 Z" stroke="#222" stroke-width="0.88" fill="none" />
<path d="M484.7,335.1 L485.4,334.3 L486.2,335.1 L485.4,335.8 Z" stroke="#222" stroke-width="0.88" fill="none" />
<path d="M567.5,409.7 C567.6,408.7 567.2,405.9 568.1,403.6 C569.1,401.3 570.7,398.1 573.2,395.9 C575.8,393.8 581.7,391.7 583.4,390.9" stroke="#222" stroke-width="1.25" fill="none" />
<path d="M567.5,409.7 L567.5,434.1" stroke="#222" stroke-width="1.25" fill="none" />
<path d="M577.7,411.2 L577.7,427.7" stroke="#222" stroke-width="1.25" fill="none" />
<path d="M567.5,409.7 L577.7,415.3" stroke="#222" stroke-width="1.12" fill="none" />
<path d="M583.4,397.5 L585.9,399.3" stroke="#222" stroke-width="1.25" fill="none" />
<path d="M585.9,399.3 C585.1,399.8 582.1,401.1 580.9,402.3 C579.6,403.6 578.6,405.2 578.3,406.8 C578.0,408.3 577.9,410.3 579.0,411.8 C580.0,413.4 582.2,415.2 584.7,416.3 C587.1,417.4 592.1,417.9 593.6,418.2" stroke="#222" stroke-width="1.25" fill="none" />
<path d="M591.0,406.1 C591.5,406.7 592.2,408.9 593.6,409.7 C595.0,410.5 597.4,411.0 599.3,411.0 C601.2,410.9 603.8,410.1 605.0,409.3 C606.2,408.5 606.3,406.7 606.5,406.1" stroke="#222" stroke-width="1.25" fill="none" />
<path d="M605.0,401.3 L615.2,407.0" stroke="#222" stroke-width="1.75" fill="none" />
<path d="M591.7,385.8 L591.7,406.8" stroke="#222" stroke-width="1.25" fill="none" />
<path d="M605.7,387.0 L605.7,407.4" stroke="#222" stroke-width="1.25" fill="none" />
<path d="M591.7,385.8 L591.7,406.8 L593.6,409.7 L599.3,411.0 L605.0,409.3 L605.7,387.0 Z" stroke="#222" stroke-width="0.12" fill="#fff" />
<path d="M591.7,385.8 L591.7,406.8" stroke="#222" stroke-width="1.25" fill="none" />
<path d="M605.7,387.0 L605.7,407.4" stroke="#222" stroke-width="1.25" fill="none" />
<path d="M591.7,406.4 C592.1,406.9 592.9,408.6 594.2,409.3 C595.5,410.0 597.6,410.6 599.3,410.6 C601.0,410.6 603.3,409.9 604.4,409.3 C605.5,408.7 605.7,407.2 605.9,406.8" stroke="#222" stroke-width="1.12" fill="none" />
<path d="M587.2,374.3 L587.2,379.4" stroke="#222" stroke-width="1.25" fill="none" />
<path d="M608.8,374.3 L608.8,379.4" stroke="#222" stroke-width="1.25" fill="none" />
<ellipse cx="598.0" cy="379.4" rx="10.8" ry="6.4" transform="rotate(0 598.0 379.4)" stroke="#222" stroke-width="1.25" fill="#fff"/>
<rect x="587.3" y="374.3" width="21.4" height="5.1" fill="#fff"/>
<path d="M587.2,374.3 L587.2,379.4" stroke="#222" stroke-width="1.25" fill="none" />
<path d="M608.8,374.3 L608.8,379.4" stroke="#222" stroke-width="1.25" fill="none" />
<ellipse cx="598.0" cy="374.3" rx="10.8" ry="6.4" transform="rotate(0 598.0 374.3)" stroke="#222" stroke-width="1.25" fill="#fff"/>
<ellipse cx="597.4" cy="373.8" rx="7.0" ry="3.9" transform="rotate(0 597.4 373.8)" stroke="#222" stroke-width="1.12" fill="none"/>
<line x1="104.8" y1="89.7" x2="371.2" y2="289.2" stroke="#222" stroke-width="1.25"/>
<polygon points="371.2,289.2 362.1,284.6 364.3,281.8" fill="#111"/>
<circle cx="85.7" cy="75.4" r="23.8" stroke="#222" stroke-width="1.25" fill="#fff"/>
<text x="85.7" y="85.0" font-size="26.5" text-anchor="middle" font-weight="normal" fill="#111" >20</text>
<line x1="256.8" y1="95.7" x2="371.8" y2="283.5" stroke="#222" stroke-width="1.25"/>
<polygon points="371.8,283.5 365.0,275.9 368.1,274.0" fill="#111"/>
<circle cx="244.4" cy="75.4" r="23.8" stroke="#222" stroke-width="1.25" fill="#fff"/>
<text x="244.4" y="85.0" font-size="26.5" text-anchor="middle" font-weight="normal" fill="#111" >19</text>
<line x1="403.1" y1="99.2" x2="401.1" y2="304.5" stroke="#222" stroke-width="1.25"/>
<polygon points="401.1,304.5 399.4,294.5 403.0,294.5" fill="#111"/>
<circle cx="403.3" cy="75.4" r="23.8" stroke="#222" stroke-width="1.25" fill="#fff"/>
<text x="403.3" y="85.0" font-size="26.5" text-anchor="middle" font-weight="normal" fill="#111" >26</text>
<line x1="551.3" y1="96.2" x2="462.2" y2="257.0" stroke="#222" stroke-width="1.25"/>
<polygon points="462.2,257.0 465.5,247.4 468.6,249.1" fill="#111"/>
<circle cx="562.8" cy="75.4" r="23.8" stroke="#222" stroke-width="1.25" fill="#fff"/>
<text x="562.8" y="85.0" font-size="26.5" text-anchor="middle" font-weight="normal" fill="#111" >21</text>
<line x1="701.9" y1="89.3" x2="467.9" y2="257.6" stroke="#222" stroke-width="1.25"/>
<polygon points="467.9,257.6 475.0,250.3 477.1,253.2" fill="#111"/>
<circle cx="721.2" cy="75.4" r="23.8" stroke="#222" stroke-width="1.25" fill="#fff"/>
<text x="721.2" y="85.0" font-size="26.5" text-anchor="middle" font-weight="normal" fill="#111" >23</text>
<line x1="864.0" y1="92.9" x2="593.4" y2="387.5" stroke="#222" stroke-width="1.25"/>
<polygon points="593.4,387.5 598.8,378.9 601.5,381.4" fill="#111"/>
<circle cx="880.1" cy="75.4" r="23.8" stroke="#222" stroke-width="1.25" fill="#fff"/>
<text x="880.1" y="85.0" font-size="26.5" text-anchor="middle" font-weight="normal" fill="#111" >1</text>
<line x1="926.7" y1="193.1" x2="611.0" y2="375.0" stroke="#222" stroke-width="1.25"/>
<polygon points="611.0,375.0 618.8,368.4 620.6,371.6" fill="#111"/>
<circle cx="947.3" cy="181.2" r="23.8" stroke="#222" stroke-width="1.25" fill="#fff"/>
<text x="947.3" y="190.8" font-size="26.5" text-anchor="middle" font-weight="normal" fill="#111" >2</text>
<line x1="924.7" y1="344.8" x2="796.4" y2="387.0" stroke="#222" stroke-width="1.25"/>
<polygon points="796.4,387.0 805.3,382.2 806.5,385.6" fill="#111"/>
<circle cx="947.3" cy="337.4" r="23.8" stroke="#222" stroke-width="1.25" fill="#fff"/>
<text x="947.3" y="347.0" font-size="26.5" text-anchor="middle" font-weight="normal" fill="#111" >3</text>
<line x1="927.5" y1="506.6" x2="868.0" y2="546.0" stroke="#222" stroke-width="1.25"/>
<polygon points="868.0,546.0 875.3,539.0 877.3,542.0" fill="#111"/>
<circle cx="947.3" cy="493.5" r="23.8" stroke="#222" stroke-width="1.25" fill="#fff"/>
<text x="947.3" y="503.1" font-size="26.5" text-anchor="middle" font-weight="normal" fill="#111" >24</text>
<line x1="925.0" y1="640.8" x2="821.6" y2="597.4" stroke="#222" stroke-width="1.25"/>
<polygon points="821.6,597.4 831.5,599.6 830.1,602.9" fill="#111"/>
<circle cx="946.9" cy="650.0" r="23.8" stroke="#222" stroke-width="1.25" fill="#fff"/>
<text x="946.9" y="659.6" font-size="26.5" text-anchor="middle" font-weight="normal" fill="#111" >17</text>
<line x1="931.4" y1="788.0" x2="592.0" y2="395.0" stroke="#222" stroke-width="1.25"/>
<polygon points="592.0,395.0 599.9,401.4 597.2,403.7" fill="#111"/>
<circle cx="947.0" cy="806.0" r="23.8" stroke="#222" stroke-width="1.25" fill="#fff"/>
<text x="947.0" y="815.6" font-size="26.5" text-anchor="middle" font-weight="normal" fill="#111" >18</text>
<line x1="148.6" y1="775.5" x2="291.4" y2="510.6" stroke="#222" stroke-width="1.25"/>
<polygon points="291.4,510.6 288.2,520.3 285.1,518.5" fill="#111"/>
<circle cx="137.3" cy="796.4" r="23.8" stroke="#222" stroke-width="1.25" fill="#fff"/>
<text x="137.3" y="806.0" font-size="26.5" text-anchor="middle" font-weight="normal" fill="#111" >22</text>
</svg>
</body></html>
